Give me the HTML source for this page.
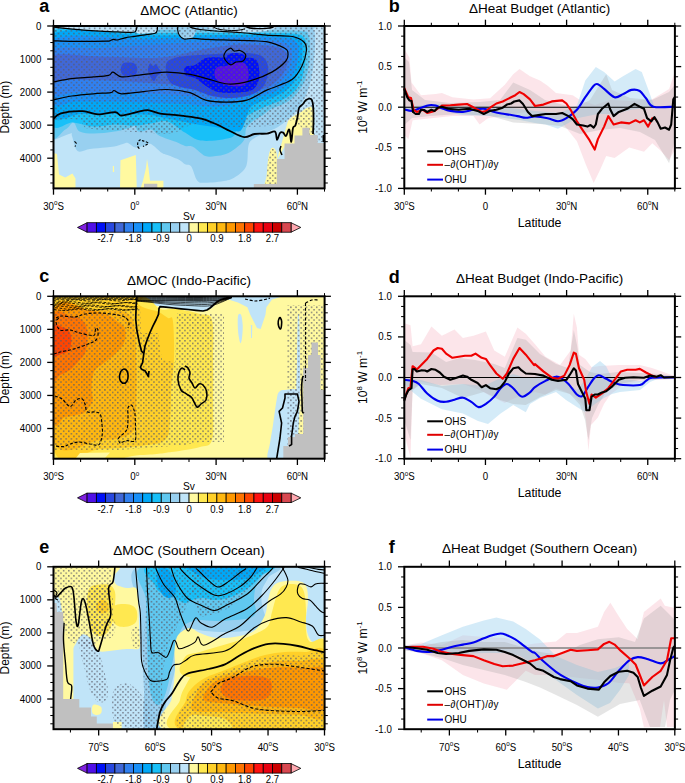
<!DOCTYPE html><html><head><meta charset="utf-8"><style>html,body{margin:0;padding:0;background:#fff;width:685px;height:783px;overflow:hidden;font-family:"Liberation Sans", sans-serif}</style></head><body><svg width="685" height="783" viewBox="0 0 685 783" style="position:absolute;left:0;top:0" font-family='"Liberation Sans", sans-serif'>
<rect width="685" height="783" fill="#fff"/>
<defs>
<pattern id="stip" width="5.165" height="5.165" patternUnits="userSpaceOnUse" x="0" y="0"><circle cx="4.235" cy="5.115" r="0.75" fill="#5a5a68"/><circle cx="4.235" cy="-0.05" r="0.75" fill="#5a5a68"/><circle cx="1.652" cy="2.533" r="0.75" fill="#5a5a68"/></pattern>
<clipPath id="pa"><rect x="53.5" y="26" width="271.1" height="162.4"/></clipPath>
<clipPath id="pc"><rect x="53.5" y="296.3" width="271.1" height="162.4"/></clipPath>
<clipPath id="pe"><rect x="53.5" y="566.8" width="271.1" height="162.4"/></clipPath>
<clipPath id="pb"><rect x="404.3" y="26" width="270.6" height="162.4"/></clipPath>
<clipPath id="pd"><rect x="404.3" y="296.3" width="270.6" height="162.4"/></clipPath>
<clipPath id="pf"><rect x="404.3" y="566.8" width="270.6" height="162.4"/></clipPath>
</defs>
<g clip-path="url(#pa)">
<rect x="53" y="25" width="273" height="165" fill="#c0e4f8"/>
<path d="M50,27.5 C66.7,8.5 108.3,27.2 150,27 C191.7,26.8 272.7,26 300,26.5 C327.3,27 311.1,26.9 313.6,30 C316.1,33.1 314.9,40 315,45 C315.1,50 314.5,55 314,60 C313.5,65 313,70 312,75 C311,80 309.7,85.3 308,90 C306.3,94.7 304.2,99.3 302,103 C299.8,106.7 297.5,109.2 295,112 C292.5,114.8 289.8,117.5 287,120 C284.2,122.5 281.5,124.9 278,127 C274.5,129.1 270.2,130.5 266,132.5 C261.8,134.5 255.9,136.8 253,139 C250.1,141.2 249.5,141.5 248.4,146 C247.3,150.5 248.4,160.9 246.3,166 C244.2,171.1 239.4,174.2 236,176.6 C232.6,179 231.1,179.7 226,180.7 C220.9,181.7 210.2,182.7 205.4,182.7 C200.6,182.7 199.7,183.4 197.3,180.7 C194.9,178 193.2,169 191.1,166.3 C189,163.6 186.9,165.3 185,164.3 C183.1,163.3 182.7,161.7 179.8,160.2 C176.9,158.7 170.5,156.3 167.5,155.1 C164.5,153.9 164.3,154.7 161.6,152.8 C158.8,151 153.8,145.2 151,144 C148.2,142.8 147.6,144.9 145,145.5 C142.4,146.1 138.1,147.9 135.3,147.5 C132.5,147.1 130.1,143.6 128,143 C126,142.4 125.3,143.4 123,144 C120.7,144.6 117.3,145.9 114.4,146.5 C111.5,147.1 109.7,147.1 105.6,147.5 C101.5,147.9 94.7,148.4 90,149 C85.3,149.6 80.5,153.2 77.5,151 C74.5,148.8 73.2,138.9 72,136 C70.8,133.1 73.7,132.8 70.5,133.5 C67.3,134.2 56.4,139.2 53,140.5 C49.6,141.8 50.5,159.8 50,141 C49.5,122.2 33.3,46.5 50,27.5Z" fill="#98d0f0"/>
<path d="M50,30.5 C66.7,13.5 116.7,30 150,30 C183.3,30 225,30.3 250,30.5 C275,30.7 290.2,30.2 300,31 C309.8,31.8 306.8,31.8 308.5,35 C310.2,38.2 309.9,45 310,50 C310.1,55 309.8,60 309,65 C308.2,70 306.8,75.5 305,80 C303.2,84.5 300.5,88.7 298,92 C295.5,95.3 292.8,97.8 290,100 C287.2,102.2 284.2,103.5 281,105 C277.8,106.5 273.9,107.4 270.9,109.1 C267.8,110.8 265.8,113.2 262.7,115.2 C259.6,117.2 255.2,119.3 252.5,121.4 C249.8,123.5 247.7,124.9 246.3,128 C244.9,131.1 246,136.5 244.3,139.8 C242.6,143.1 239.2,145.5 236.1,147.9 C233,150.3 229.3,152.7 225.9,154.1 C222.5,155.5 219.1,155.8 215.7,156.1 C212.3,156.4 209.2,157.6 205.4,156.1 C201.7,154.6 196.6,148.6 193.2,146.9 C189.8,145.2 187.9,146.8 185,145.9 C182.1,145.1 180,143.5 175.7,141.8 C171.4,140.1 163.4,137.8 159.3,135.7 C155.2,133.6 154.6,130.2 151.2,129.5 C147.8,128.8 141.6,132.3 138.9,131.6 C136.2,130.9 136.2,126.1 134.8,125.4 C133.4,124.7 134.1,126.5 130.7,127.5 C127.3,128.5 120.5,130.6 114.4,131.6 C108.3,132.6 99.8,133.6 94,133.6 C88.2,133.6 83,133.5 79.6,131.6 C76.2,129.7 75.8,122.8 73.4,122.4 C71,122.1 69.2,127.9 65.3,129.5 C61.4,131.1 52.5,148.5 50,132 C47.5,115.5 33.3,47.5 50,30.5Z" fill="#60c8f0"/>
<path d="M50,33.5 C66.7,18.8 116.7,33.1 150,33 C183.3,32.9 226.3,32.9 250,33 C273.7,33.1 282.9,32.7 292,33.5 C301.1,34.3 302.1,35.2 304.4,38 C306.7,40.8 305.9,45.5 306,50 C306.1,54.5 305.7,60.3 305,65 C304.3,69.7 303.3,74.2 302,78 C300.7,81.8 299,85.2 297,88 C295,90.8 292.5,93 290,95 C287.5,97 285,98.5 282,100 C279,101.5 275.3,102.7 272,104 C268.7,105.3 265.3,106.5 262,108 C258.7,109.5 255,111.3 252,113 C249,114.7 246.3,116 244,118 C241.7,120 239.7,122 238,125 C236.3,128 236,133.4 234,135.7 C232,138 229.6,137.8 225.9,138.7 C222.2,139.5 216.4,140.6 211.6,140.8 C206.8,141 201.7,141.2 197.3,139.8 C192.9,138.4 190,135.7 185,132.6 C180,129.5 173.1,122.9 167.5,121.4 C161.9,119.9 156.6,122.7 151.2,123.4 C145.8,124.1 140.9,125.2 134.8,125.4 C128.7,125.6 121.2,124.2 114.4,124.4 C107.6,124.6 100.8,126.8 94,126.5 C87.2,126.2 80.7,123.2 73.4,122.4 C66.1,121.6 53.9,136.2 50,121.4 C46.1,106.6 33.3,48.2 50,33.5Z" fill="#18c0f8"/>
<path d="M50,36 C66.7,22.9 116.7,35.7 150,35.5 C183.3,35.3 226.7,35 250,35 C273.3,35 281.5,34.7 290,35.5 C298.5,36.3 298.9,37.2 301,40 C303.1,42.8 302.6,47.7 302.5,52 C302.4,56.3 301.6,61.7 300.5,66 C299.4,70.3 297.8,74.5 296,78 C294.2,81.5 292.3,84.5 290,87 C287.7,89.5 285,91.2 282,93 C279,94.8 275.7,96.5 272,98 C268.3,99.5 263.7,100.3 260,102 C256.3,103.7 252.5,104.7 250,108 C247.5,111.3 246.7,118.2 245,122 C243.3,125.8 242.5,129.7 240,131 C237.5,132.3 234.2,130.7 230,130 C225.8,129.3 220,127.8 215,127 C210,126.2 205,125.8 200,125 C195,124.2 190,123 185,122 C180,121 174.2,119.8 170,119 C165.8,118.2 163.3,117.7 160,117 C156.7,116.3 156.7,115.5 150,115 C143.3,114.5 128.3,114.2 120,114 C111.7,113.8 106.7,114 100,114 C93.3,114 88.3,114 80,114 C71.7,114 55,127 50,114 C45,101 33.3,49.1 50,36Z" fill="#00a8f8"/>
<path d="M50,40.7 C66.7,30.3 116.7,39.6 150,39 C183.3,38.4 227.5,37.2 250,37 C272.5,36.8 277.2,37 285,38 C292.8,39 294.8,40.3 297,43 C299.2,45.7 298.7,50 298.5,54 C298.3,58 297.2,63 296,67 C294.8,71 293,74.8 291,78 C289,81.2 286.8,83.7 284,86 C281.2,88.3 277.7,90.3 274,92 C270.3,93.7 266.3,94.7 262,96 C257.7,97.3 252.3,98.8 248,100 C243.7,101.2 240.3,102 236,103 C231.7,104 227.2,105.5 222,106 C216.8,106.5 211.2,106.3 205,106 C198.8,105.7 192.5,104.5 185,104 C177.5,103.5 169.2,103.3 160,103 C150.8,102.7 140,102.2 130,102 C120,101.8 109.2,101.6 100,101.5 C90.8,101.4 83.3,101.5 75,101.5 C66.7,101.5 54.2,111.4 50,101.3 C45.8,91.2 33.3,51.1 50,40.7Z" fill="#1890f8"/>
<path d="M50,51.5 C58.3,44.1 83.3,49.1 100,48 C116.7,46.9 133.3,46 150,45 C166.7,44 183.3,42.8 200,42 C216.7,41.2 236.7,40.5 250,40.5 C263.3,40.5 273.3,40.9 280,42 C286.7,43.1 288,44.7 290,47 C292,49.3 292,52.7 292,56 C292,59.3 291.2,63.5 290,67 C288.8,70.5 287.2,74 285,77 C282.8,80 280.3,82.7 277,85 C273.7,87.3 269.5,89.3 265,91 C260.5,92.7 255,93.8 250,95 C245,96.2 240.8,97.3 235,98 C229.2,98.7 222.5,99.3 215,99 C207.5,98.7 199.2,96.8 190,96 C180.8,95.2 170,94.5 160,94 C150,93.5 140,93.2 130,93 C120,92.8 109.2,92.6 100,92.5 C90.8,92.4 83.3,92.4 75,92.4 C66.7,92.4 54.2,99.2 50,92.4 C45.8,85.6 41.7,58.9 50,51.5Z" fill="#3080f0"/>
<path d="M50,56 C58.3,52.1 83.3,56.2 100,56.5 C116.7,56.8 137.5,58.2 150,58 C162.5,57.8 166.7,56.8 175,55.5 C183.3,54.2 191.7,51.6 200,50 C208.3,48.4 217.5,46.9 225,46 C232.5,45.1 237.2,44.6 245,44.6 C252.8,44.6 265.3,44.9 272,46 C278.7,47.1 282.3,48.7 285,51 C287.7,53.3 288,56.8 288,60 C288,63.2 286.5,66.8 285,70 C283.5,73.2 281.8,76.2 279,79 C276.2,81.8 272.5,84.8 268,87 C263.5,89.2 257.5,90.8 252,92 C246.5,93.2 241.2,93.8 235,94 C228.8,94.2 221.7,93.8 215,93 C208.3,92.2 201.7,90.3 195,89 C188.3,87.7 182.5,86 175,85 C167.5,84 159.2,83.7 150,83 C140.8,82.3 130,81.5 120,81 C110,80.5 98.3,80.2 90,80 C81.7,79.8 76.7,79.7 70,79.6 C63.3,79.5 53.3,83.5 50,79.6 C46.7,75.7 41.7,59.9 50,56Z" fill="#4068d8"/>
<path d="M167,62 C168.5,59.7 172,59 175,58 C178,57 180.8,56.5 185,56 C189.2,55.5 195,55.3 200,55 C205,54.7 209.2,54.3 215,54 C220.8,53.7 228.8,53.1 235,53 C241.2,52.9 247.3,52.8 252,53.5 C256.7,54.2 260.3,54.9 263,57 C265.7,59.1 267.3,62.5 268,66 C268.7,69.5 268,74.3 267,78 C266,81.7 264.8,85.2 262,88 C259.2,90.8 255,93.3 250,95 C245,96.7 238.3,97.8 232,98 C225.7,98.2 218.2,97.3 212,96 C205.8,94.7 200.3,91.5 195,90 C189.7,88.5 184.2,88.3 180,87 C175.8,85.7 172.3,84.5 170,82 C167.7,79.5 166.5,75.3 166,72 C165.5,68.7 165.5,64.3 167,62Z" fill="#2848e0"/>
<path d="M120.7,69.5 C120.7,67.6 121.6,64.7 123,63.5 C124.4,62.3 127,62.4 129,62.5 C131,62.6 133.6,62.8 135,64 C136.4,65.2 137.3,67.7 137.3,69.5 C137.3,71.3 136.4,73.8 135,75 C133.6,76.2 131,76.5 129,76.5 C127,76.5 124.4,76.2 123,75 C121.6,73.8 120.7,71.4 120.7,69.5Z" fill="#2848e0"/>
<path d="M148,70 C148,67.9 149.2,64.1 150,63.4 C150.8,62.7 152,65.9 153,66 C154,66.1 155,63.5 156,64 C157,64.5 158,67.7 159,69 C160,70.3 162.1,70.8 161.8,72 C161.5,73.2 158.3,74.5 157,76 C155.7,77.5 155.2,81 154,81 C152.8,81 151,77.8 150,76 C149,74.2 148,72.1 148,70Z" fill="#2848e0"/>
<path d="M185.3,67 C186.9,65.3 191.6,66.5 195,65 C198.4,63.5 201.5,59.2 206,58 C210.5,56.8 216.3,57.6 222,57.5 C227.7,57.4 234.5,57.2 240,57.5 C245.5,57.8 251.8,57.2 255,59 C258.2,60.8 258.4,64.5 259,68 C259.6,71.5 260,76.3 258.8,80 C257.6,83.7 256,87.9 252,90 C248,92.1 240.7,92.5 235,92.8 C229.3,93.1 222.8,93.1 218,92 C213.2,90.9 209.8,88.3 206,86 C202.2,83.7 198.4,79.8 195,78 C191.6,76.2 186.9,76.8 185.3,75 C183.7,73.2 183.7,68.7 185.3,67Z" fill="#0010f8"/>
<path d="M227,56 C227.7,54.5 230.5,53.3 233,53 C235.5,52.7 239.8,53.2 242,54 C244.2,54.8 245.7,56.5 246,58 C246.3,59.5 245.7,62 244,63 C242.3,64 238.5,64.2 236,64 C233.5,63.8 230.5,63.3 229,62 C227.5,60.7 226.3,57.5 227,56Z" fill="#0010f8"/>
<path d="M215,70 C215.7,68.2 217.2,67.2 219,66.5 C220.8,65.8 223.5,66.6 226,66 C228.5,65.4 231,63.5 234,63 C237,62.5 241.6,61.8 244,63 C246.4,64.2 247.6,67.2 248.3,70 C249,72.8 249.1,77.4 248,80 C246.9,82.6 245,84.8 242,85.8 C239,86.8 233.7,86.4 230,85.8 C226.3,85.2 222.5,83.8 220,82.3 C217.5,80.8 215.8,79 215,77 C214.2,75 214.3,71.8 215,70Z" fill="#5010e8"/>
<path d="M50,26 137,26 136.5,29 134.7,32 128,32.3 114.3,31.8 100,31.2 83.7,30.1 70,28.8 53.5,27.6 50,27.6Z" fill="#c0e4f8"/>
<path d="M136,26 C139.5,24.8 154.4,25.5 158,26 C161.6,26.5 158,27.9 157.5,29 C157,30.1 157.1,31.8 155,32.5 C152.9,33.2 148,33.4 145,33.5 C142,33.6 138.5,34.2 137,33 C135.5,31.8 132.5,27.2 136,26Z" fill="#c0e4f8"/>
<path d="M176.5,26 C179.4,25.3 192.2,24.1 195,26 C197.8,27.9 194.8,35.4 193,37.5 C191.2,39.6 186.2,38.9 184,38.5 C181.8,38.1 180.6,36.4 179.5,35 C178.4,33.6 178.2,31.5 177.7,30 C177.2,28.5 173.6,26.7 176.5,26Z" fill="#98d0f0"/>
<path d="M211,26 C220,25.2 262.2,25.3 272,26 C281.8,26.7 272.8,29 270,30 C267.2,31 260.8,31.7 255,32 C249.2,32.3 241.2,32.2 235,32 C228.8,31.8 222,31.5 218,30.5 C214,29.5 202,26.8 211,26Z" fill="#c0e4f8"/>
<path d="M53.5,153 57,154 59,174.5 65.3,177.6 72.4,173.5 75.5,178.6 75.5,190 53.5,190Z" fill="#fff9a0"/>
<path d="M120.5,160.2 135.8,155.1 136.8,190 120,190Z" fill="#fff9a0"/>
<path d="M112.8,166 114,166 114.2,172 112.8,172Z" fill="#fff9a0"/>
<path d="M140,190 143,180.7 146,168 147,159 148.5,168 150,180.7 163.4,180.7 163.4,190Z" fill="#fff9a0"/>
<path d="M265.3,185 C263.6,183.5 266.1,180.8 266.6,176 C267.1,171.2 267.6,161.1 268.5,156.4 C269.4,151.8 270.5,149.2 271.7,148.1 C272.9,147 274.6,148.3 275.5,150 C276.4,151.7 276.8,152.2 277,158 C277.2,163.8 278.9,180.5 277,185 C275.1,189.5 267,186.5 265.3,185Z" fill="#fff9a0"/>
<path d="M277,160 279,152 282,142 285,131 288,121 292,117 297,114 301,112 305,109 308,107.5 311,106.5 314,112 314,143 285,146Z" fill="#fff9a0"/>
<path d="M53.5,26 324.5,26 324.5,142 314,142 302,128 294,120 285,122 270,126 250,127 230,127 200,123 185,127 175,133 165,134 150,133 120,131 100,130 85,128 80,120 70,119 53.5,121Z" fill="url(#stip)"/>
<path d="M265.3,185 266.6,176 268.5,156.4 271.7,148.1 275.5,150 277,158 277,185Z" fill="url(#stip)"/>
<path d="M253.8,190 253.8,183.9 276.8,183.9 276.8,159 284.5,159 284.5,143.6 294.5,143.6 294.5,135.5 302.4,135.5 302.4,127.7 309.4,127.7 309.4,135 317.7,135 317.7,143 326,143 326,190Z" fill="#c0c0c0"/>
<path d="M144,190 144,183.7 157.3,183.7 157.3,190Z" fill="#c0c0c0"/>
<path d="M53.5,81.9 C56.5,81.4 65,79.4 71.7,78.6 C78.4,77.8 87.2,77.5 93.4,76.9 C99.6,76.4 105.3,76.1 108.6,75.3 C111.9,74.5 110.8,71.8 113,72.1 C115.2,72.4 117.6,76.4 121.6,76.9 C125.6,77.4 132.1,75.8 136.8,75.3 C141.5,74.8 144.7,74.3 149.8,73.8 C154.9,73.3 160.5,72 167.2,72.1 C173.9,72.2 183.4,73.2 190,74.3 C196.6,75.4 200.3,77 206.7,78.6 C213.1,80.2 221.2,83.6 228.4,84 C235.6,84.4 242.9,82.8 250.1,80.8 C257.3,78.8 265.8,75.4 271.8,72.1 C277.8,68.8 283.2,64.2 285.9,61 C288.6,57.8 288.1,54.9 287.9,52.8 C287.7,50.7 288.3,50.1 284.7,48.3 C281.1,46.4 273.8,43 266.3,41.7 C258.9,40.4 250.1,40.8 240,40.4 C229.9,40 213.4,39.8 205.6,39.4 C197.8,39 196.6,38.4 193,38.3 C189.4,38.2 186.2,39.5 184,39 C181.8,38.5 180.6,37 179.5,35.5 C178.4,34 177.9,31.5 177.7,30 C177.4,28.5 177.9,26.9 178,26.3" fill="none" stroke="#000" stroke-width="1.2"/>
<path d="M53.5,99.9 C56.5,99.2 65,97 71.7,96 C78.4,95 86.9,94.3 93.4,93.8 C99.9,93.2 107.4,93.2 110.8,92.7 C114.2,92.2 112.2,90.3 114,90.5 C115.8,90.7 116.7,93.6 121.6,93.8 C126.5,94 135.7,92.3 143.3,91.6 C150.9,90.9 159.4,89.3 167.2,89.5 C175,89.7 183.6,90.9 190,92.7 C196.4,94.5 199.6,98.6 205.6,100.2 C211.6,101.8 219.3,102.2 226.2,102.2 C233.1,102.2 240,102.2 246.8,100.2 C253.7,98.2 259.8,93.3 267.3,89.9 C274.8,86.5 286.2,83.7 292,79.6 C297.8,75.5 299.9,70 302.3,65.2 C304.7,60.4 306,54.6 306.4,50.8 C306.8,47 306.7,44.9 304.4,42.5 C302.1,40.1 298.9,37.7 292.5,36.5 C286.1,35.3 275.1,35.8 266.3,35.1 C257.6,34.4 248.6,33.2 240,32.5 C231.4,31.8 221.7,31.5 215,31 C208.3,30.5 203.8,30 200,29.5 C196.2,29 193.8,28.3 192,27.8 C190.2,27.3 189.5,26.6 189,26.3" fill="none" stroke="#000" stroke-width="1.2"/>
<path d="M53.5,27.2 C56.2,27.5 65,28.3 70,28.8 C75,29.3 78.7,29.7 83.7,30.1 C88.7,30.5 94.9,30.9 100,31.2 C105.1,31.5 109.6,31.6 114.3,31.8 C119,32 124.6,32.3 128,32.3 C131.4,32.3 133.3,32.5 134.7,32 C136.1,31.4 136.1,29.9 136.5,29 C136.9,28.1 136.9,26.8 137,26.3" fill="none" stroke="#000" stroke-width="1.3"/>
<path d="M53.5,40.8 C56.8,40.9 66.5,41.3 73.4,41.4 C80.3,41.5 89.4,41.3 95,41.3 C100.6,41.3 104.5,41.3 107,41.2 C109.5,41.1 109.2,41.1 110.2,40.8 C111.2,40.5 112.2,39.4 113.3,39.3 C114.4,39.2 115,40.2 117,40 C119,39.8 122,38.4 125,37.8 C128,37.2 131.4,36.8 134.7,36.3 C138,35.8 141.6,35.3 145,34.8 C148.4,34.3 153.2,34 155.2,33.2 C157.2,32.4 156.8,31.2 157.2,30.1 C157.6,29 157.4,26.9 157.5,26.3" fill="none" stroke="#000" stroke-width="1.2"/>
<path d="M226,51 C226.8,50.5 229.5,48.1 230.8,48.1 C232.1,48.1 232.5,50.6 234,51 C235.5,51.4 238.1,49.8 240,50.5 C241.9,51.2 245.2,53.2 245.7,55 C246.2,56.8 244.6,59.8 243,61 C241.4,62.2 238,61.4 236,62 C234,62.6 232.5,65 230.8,64.8 C229.1,64.6 227.2,62.5 226,61 C224.8,59.5 223.8,57.7 223.8,56 C223.8,54.3 225.6,51.8 226,51" fill="none" stroke="#000" stroke-width="1.2"/>
<path d="M245,26.3 C245.8,26.6 247.8,27.6 250,28 C252.2,28.4 255.3,28.6 258,28.6 C260.7,28.7 263.7,28.5 266,28.3 C268.3,28.1 270.7,27.8 272,27.5 C273.3,27.2 273.7,26.5 274,26.3" fill="none" stroke="#000" stroke-width="1.3"/>
<path d="M211.8,26.3 C213.2,26.8 216.1,28.8 220,29.5 C223.9,30.2 230.8,30.6 235,30.5 C239.2,30.4 243.3,29.2 245,29" fill="none" stroke="#000" stroke-width="1.0"/>
<path d="M53.5,118.8 C54.7,117.9 56,114.6 60.9,113.3 C65.8,112 76.4,111 82.6,111.2 C88.8,111.4 92.4,114.2 97.8,114.4 C103.2,114.6 111.1,112 115.1,112.2 C119.1,112.4 118,115.5 121.6,115.5 C125.2,115.5 132.5,113.1 136.8,112.2 C141.2,111.3 143.8,109.9 147.7,110.1 C151.6,110.3 154.9,112.7 160.4,113.6 C165.9,114.5 174.1,114.8 180.9,115.7 C187.7,116.6 195.2,117.2 201.3,118.7 C207.4,120.2 212.9,122.9 217.7,124.9 C222.5,127 225.5,129 229.9,131 C234.3,133 240.1,136.6 244.2,137.1 C248.3,137.6 250.7,134.6 254.5,134 C258.3,133.4 263.4,134 266.8,133.6 C270.2,133.2 273.3,130.6 275,131.6 C276.7,132.6 276.2,139.6 277,139.8 C277.8,140 279,134.2 280,133 C281,131.8 282.2,132.1 283.2,132.6 C284.2,133.1 285,136.5 286,136 C287,135.5 288.4,128.5 289.3,129.5 C290.2,130.5 290.7,142.1 291.3,141.8 C291.9,141.6 292.3,130.7 293,128 C293.7,125.3 294.6,127.2 295.4,125.4 C296.1,123.6 296.9,120.2 297.5,117.3 C298.1,114.4 298.1,110.2 299,108 C299.9,105.8 301.8,105.3 303,104 C304.2,102.7 304.7,100.8 306,100 C307.3,99.2 309.8,98.2 311,99 C312.2,99.8 312.6,101.5 313,105 C313.4,108.5 313.5,115.2 313.5,120 C313.5,124.8 313.1,131.7 313,134" fill="none" stroke="#000" stroke-width="1.8"/>
<path d="M281,146 C280.8,146.7 279.8,148.5 280,150 C280.2,151.5 281.7,154.2 282,155" fill="none" stroke="#000" stroke-width="1.5"/>
<path d="M323.5,135 L323.5,142" fill="none" stroke="#000" stroke-width="1.8"/>
<path d="M74.5,141.4 C74.8,141.8 76.2,142.6 76.3,143.5 C76.4,144.4 75.2,146.1 75,146.6" fill="none" stroke="#000" stroke-width="1.15" stroke-dasharray="3,1.8"/>
<path d="M140.5,139.5 C140.1,139.9 138.4,140.8 138,142 C137.6,143.2 137.5,145.3 137.8,146.5 C138.1,147.7 139.6,148.8 140,149.3" fill="none" stroke="#000" stroke-width="1.15" stroke-dasharray="2.5,1.5"/>
<path d="M142,140.5 C143.1,140.9 148.1,142.2 148.3,143.2 C148.5,144.2 143.9,145.9 143,146.5" fill="none" stroke="#000" stroke-width="1.15" stroke-dasharray="2.5,1.5"/>
</g>
<g clip-path="url(#pc)">
<rect x="53" y="295" width="273" height="165" fill="#fff9a0"/>
<path d="M137,296 279.7,296 279.7,297.3 272,299.6 266.4,307.2 265.5,314.8 260.7,329 257,328 250.3,314.8 247.4,307.2 238,302.4 230,300 225,299 217.6,301.5 212,308 203,311 188.4,309.5 173.8,308 160,306.5 150,304 137,303Z" fill="#c0e4f8"/>
<path d="M238,316 C238.5,313.5 240.2,313.3 241,314.8 C241.8,316.3 242.5,321.1 242.7,325 C242.9,328.9 242.4,335 242,338 C241.6,341 241,343.2 240.5,343.2 C240,343.2 239.4,340.2 239,338 C238.6,335.8 238.2,333.7 238,330 C237.8,326.3 237.5,318.5 238,316Z" fill="#c0e4f8"/>
<path d="M250.9,325 252.2,325 252,338 251,338Z" fill="#c0e4f8"/>
<path d="M297.7,318 C298,310.7 298.7,314 299,316 C299.3,318 299.4,317 299.6,330 C299.8,343 300.5,383.3 300,394 C299.5,404.7 297,399.7 296.5,394 C296,388.3 296.8,372.7 297,360 C297.2,347.3 297.4,325.3 297.7,318Z" fill="#c0e4f8"/>
<path d="M276.6,400 C277.6,394.5 277.6,393.7 279,392 C280.4,390.3 281.8,390 285,390 C288.2,390 295.9,387 298.2,392 C300.5,397 299.4,411.2 299,420 C298.6,428.8 298.7,438.5 296,445 C293.3,451.5 287.7,456.7 283,459 C278.3,461.3 270.2,461.7 268,459 C265.8,456.3 269.2,448.7 270,443 C270.8,437.3 271.9,432.2 273,425 C274.1,417.8 275.6,405.5 276.6,400Z" fill="#c0e4f8"/>
<path d="M53,295 C66.9,268.3 119.2,292.7 137,295 C154.8,297.3 153.5,306.7 160,309 C166.5,311.3 169.3,308.2 176,309 C182.7,309.8 194,312.2 200,314 C206,315.8 209.8,312.3 212,320 C214.2,327.7 212.8,346.7 213,360 C213.2,373.3 213.2,386.7 213,400 C212.8,413.3 214.2,432.2 212,440 C209.8,447.8 204.5,445.3 200,447 C195.5,448.7 189.8,449.2 185,450 C180.2,450.8 179,451.2 171.5,452 C164,452.8 159.7,454.5 140,455 C120.3,455.5 68,481.7 53.5,455 C39,428.3 39.1,321.7 53,295Z" fill="#ffe850"/>
<path d="M53,295 C66.9,269.3 122.9,293.7 137,295 C151.1,296.3 136.2,300.8 137.5,303 C138.8,305.2 141.5,306.5 145,308 C148.5,309.5 154.9,310.3 158.7,312 C162.5,313.7 165.7,316.8 168,318 C170.3,319.2 171.5,315.3 172.5,319 C173.5,322.7 173.8,332.3 174,340 C174.2,347.7 174.1,357.3 173.7,365 C173.3,372.7 172,376.8 171.4,386 C170.8,395.2 171.1,411 170,420 C168.9,429 170,435.7 165,440 C160,444.3 150.8,444.5 140,446 C129.2,447.5 114.4,448.5 100,449 C85.6,449.5 61.3,474.7 53.5,449 C45.7,423.3 39.1,320.7 53,295Z" fill="#ffd028"/>
<path d="M53.5,310 C59.6,288.2 78.7,309.8 90,310 C101.3,310.2 114.3,309.7 121.3,311 C128.3,312.3 129.7,314.8 132,318 C134.3,321.2 134.3,324.7 135,330 C135.7,335.3 135.8,341.7 136,350 C136.2,358.3 136.5,370 136.5,380 C136.5,390 136.4,401.7 136,410 C135.6,418.3 136.7,425.3 134,430 C131.3,434.7 125.7,436.3 120,438 C114.3,439.7 111.1,439.5 100,440 C88.9,440.5 61.2,462.7 53.5,441 C45.8,419.3 47.4,331.8 53.5,310Z" fill="#ffb810"/>
<path d="M53.5,310.5 C59.6,292.5 80.9,309.8 90,310.5 C99.1,311.2 103.3,313.1 108,315 C112.7,316.9 115.2,319.7 118,322 C120.8,324.3 124,325.5 125,329 C126,332.5 125.8,338.8 124,343 C122.2,347.2 118,351.1 114.5,354.5 C111,357.9 106.4,360.8 103,363.7 C99.6,366.6 95.9,367.8 94,372 C92.1,376.2 91.7,384.2 91.5,389 C91.3,393.8 93.7,397.2 92.6,401 C91.5,404.8 87.2,409.8 85,412 C82.8,414.2 82.6,413.6 79.3,414.4 C76,415.2 69.3,416.3 65,417 C60.7,417.7 55.4,436.1 53.5,418.4 C51.6,400.6 47.4,328.5 53.5,310.5Z" fill="#ff9800"/>
<path d="M53.5,315.7 C56.2,305.5 65.2,315.3 70,316 C74.8,316.7 79.1,317.7 82,320 C84.9,322.3 86.4,325.8 87.2,330 C88,334.2 87.5,340.8 87,345 C86.5,349.2 85.5,352.2 84,355 C82.5,357.8 80.3,359.5 78,362 C75.7,364.5 73,367.8 70,370 C67,372.2 62.8,373.8 60,375 C57.2,376.2 54.6,386.9 53.5,377 C52.4,367.1 50.8,325.9 53.5,315.7Z" fill="#ff7400"/>
<path d="M53.5,326 C54.9,321.5 59.4,326.2 62,327 C64.6,327.8 67.4,328.8 69,331 C70.6,333.2 71.4,336.8 71.4,340 C71.4,343.2 70.6,347.7 69,350 C67.4,352.3 64.6,353.1 62,353.8 C59.4,354.5 54.9,358.6 53.5,354 C52.1,349.4 52.1,330.5 53.5,326Z" fill="#ff4400"/>
<path d="M76,458 80,453 110,452.5 105,458Z" fill="#fff9a0"/>
<path d="M53.5,310 137,310 140,305 141,333 158,333 162,360 175,362 177,313 200,314 224,314 224,442 200,442 185,445 120,450 53.5,450Z" fill="url(#stip)"/>
<path d="M287,305 324.5,305 324.5,458 287,458Z" fill="url(#stip)"/>
<path d="M283.3,460 283.3,446 288,446 288,437 295,437 295,434 303.2,434 303.2,368 308,368 308,355 311.5,355 311.5,342.5 318,342.5 318,355 320.5,355 320.5,390 326,390 326,460Z" fill="#c0c0c0"/>
<path d="M137,297.1 C142.5,297.1 159.5,297.2 170,297.3 C180.5,297.4 191.3,297.6 200,297.5 C208.7,297.4 216.7,296.9 222,296.8 C227.3,296.7 230.3,296.8 232,296.8" fill="none" stroke="#000" stroke-width="0.8"/>
<path d="M137,298.1 C142.5,298.1 159.5,298.2 170,298.2 C180.5,298.3 191.3,298.5 200,298.4 C208.7,298.4 216.7,298 222,297.8 C227.3,297.5 230.3,297 232,296.8" fill="none" stroke="#000" stroke-width="0.8"/>
<path d="M137,299 C142.5,299 159.5,299.1 170,299.2 C180.5,299.3 191.3,299.5 200,299.4 C208.7,299.3 216.7,299.1 222,298.7 C227.3,298.3 230.3,297.1 232,296.8" fill="none" stroke="#000" stroke-width="0.8"/>
<path d="M137,300 C142.5,300 159.5,300.1 170,300.2 C180.5,300.2 191.3,300.4 200,300.4 C208.7,300.3 216.7,300.2 222,299.7 C227.3,299.1 230.3,297.3 232,296.8" fill="none" stroke="#000" stroke-width="0.8"/>
<path d="M137,300.3 C139.2,300.3 144.3,300.4 150,300.5 C155.7,300.6 164.3,300.7 171,300.8 C177.7,300.9 184.3,301.1 190,301.2 C195.7,301.3 201,301.4 205,301.3 C209,301.2 211.2,301.1 214,300.8 C216.8,300.6 219,300.4 222,299.8 C225,299.2 230.3,297.9 232,297.5" fill="none" stroke="#000" stroke-width="0.7"/>
<path d="M137,300.6 C139.2,300.7 144.3,300.9 150,301.1 C155.7,301.4 164.3,301.8 171,302.1 C177.7,302.3 184.3,302.5 190,302.7 C195.7,302.8 201,303 205,302.9 C209,302.8 211.2,302.6 214,302.2 C216.8,301.8 219,301.3 222,300.5 C225,299.8 230.3,298 232,297.5" fill="none" stroke="#000" stroke-width="0.7"/>
<path d="M137,300.8 C139.2,301 144.3,301.3 150,301.7 C155.7,302.1 164.3,302.9 171,303.3 C177.7,303.7 184.3,303.9 190,304.1 C195.7,304.3 201,304.6 205,304.5 C209,304.4 211.2,304.1 214,303.6 C216.8,303.1 219,302.3 222,301.3 C225,300.2 230.3,298.1 232,297.5" fill="none" stroke="#000" stroke-width="0.7"/>
<path d="M137,301.1 C139.2,301.3 144.3,301.7 150,302.3 C155.7,302.9 164.3,304.1 171,304.6 C177.7,305.2 184.3,305.3 190,305.6 C195.7,305.8 201,306.2 205,306.1 C209,306 211.2,305.7 214,305 C216.8,304.3 219,303.2 222,302 C225,300.8 230.3,298.2 232,297.5" fill="none" stroke="#000" stroke-width="0.7"/>
<path d="M136.9,296.5 L136.2,305 L135.7,319 L136.9,330.5 L139.2,342 L141.5,351.2 L143.8,353.5 L142.6,362.7 L140.3,367.3 L142,369.5 L145,370.7 L147,374 L148.4,376.5 L149,371 M143.8,353.5 L145,346 L147.2,339.7 L150,332.5 L153,325.9 L156,320 L158.5,314.4 L159,308.5 L160,306.6 L166,307.2 L173.8,308 L181,308.8 L188.4,309.5 L196,310.3 L203,311 L207,310 L210,308 L214,304.5 L217.6,301.5 L221,299.8 L225,298.5 L230,297" fill="none" stroke="#000" stroke-width="1.7" stroke-linejoin="round"/>
<path d="M53.5,297.0 L137,297.2" fill="none" stroke="#111" stroke-width="0.9" stroke-dasharray="4,1.2" stroke-dashoffset="0.0"/>
<path d="M53.5,298.1 L137,298.3" fill="none" stroke="#111" stroke-width="0.9" stroke-dasharray="4,1.2" stroke-dashoffset="1.7"/>
<path d="M53.5,299.2 L137,299.4" fill="none" stroke="#111" stroke-width="0.9" stroke-dasharray="4,1.2" stroke-dashoffset="3.4"/>
<path d="M53.5,300.6 C54.5,300.7 57.5,301.2 59.5,301.2 C61.5,301.3 63.5,301.1 65.5,300.9 C67.5,300.7 69.5,300.2 71.5,300 C73.5,299.9 75.5,299.8 77.5,299.9 C79.5,300 81.5,300.4 83.5,300.6 C85.5,300.8 87.5,301.1 89.5,301.1 C91.5,301.1 93.5,300.8 95.5,300.6 C97.5,300.4 99.5,299.9 101.5,299.8 C103.5,299.6 105.5,299.7 107.5,299.8 C109.5,299.9 111.5,300.4 113.5,300.6 C115.5,300.8 117.5,301 119.5,301 C121.5,300.9 123.5,300.5 125.5,300.3 C127.5,300.1 129.5,299.7 131.5,299.6 C133.5,299.5 136.5,299.7 137.5,299.8" fill="none" stroke="#000" stroke-width="0.85" stroke-dasharray="2.8,1.5" stroke-dashoffset="0.00"/>
<path d="M53.5,302.7 C54.5,302.7 57.5,302.9 59.5,302.8 C61.5,302.7 63.5,302.2 65.5,302.1 C67.5,301.9 69.5,301.6 71.5,301.7 C73.5,301.7 75.5,302.1 77.5,302.3 C79.5,302.6 81.5,303 83.5,303.2 C85.5,303.3 87.5,303.2 89.5,303.1 C91.5,302.9 93.5,302.5 95.5,302.3 C97.5,302.1 99.5,302 101.5,302.1 C103.5,302.2 105.5,302.6 107.5,302.8 C109.5,303.1 111.5,303.5 113.5,303.6 C115.5,303.7 117.5,303.5 119.5,303.3 C121.5,303.1 123.5,302.7 125.5,302.6 C127.5,302.4 129.5,302.4 131.5,302.5 C133.5,302.7 136.5,303.2 137.5,303.4" fill="none" stroke="#000" stroke-width="0.85" stroke-dasharray="2.8,1.5" stroke-dashoffset="1.37"/>
<path d="M53.5,304.4 C54.5,304.3 57.5,303.9 59.5,303.7 C61.5,303.5 63.5,303.1 65.5,303 C67.5,302.9 69.5,303 71.5,303.2 C73.5,303.4 75.5,303.9 77.5,304 C79.5,304.2 81.5,304.3 83.5,304.2 C85.5,304.1 87.5,303.6 89.5,303.4 C91.5,303.2 93.5,302.8 95.5,302.8 C97.5,302.8 99.5,303 101.5,303.2 C103.5,303.4 105.5,303.9 107.5,304 C109.5,304.1 111.5,304.1 113.5,304 C115.5,303.8 117.5,303.3 119.5,303.1 C121.5,302.9 123.5,302.6 125.5,302.6 C127.5,302.7 129.5,303 131.5,303.2 C133.5,303.4 136.5,303.8 137.5,303.9" fill="none" stroke="#000" stroke-width="0.85" stroke-dasharray="2.8,1.5" stroke-dashoffset="2.74"/>
<path d="M53.5,305.5 C54.5,305.4 57.5,304.9 59.5,304.8 C61.5,304.7 63.5,304.7 65.5,304.8 C67.5,305 69.5,305.5 71.5,305.7 C73.5,305.9 75.5,306.2 77.5,306.2 C79.5,306.3 81.5,306 83.5,305.8 C85.5,305.6 87.5,305.2 89.5,305.1 C91.5,305 93.5,305.1 95.5,305.3 C97.5,305.5 99.5,306 101.5,306.2 C103.5,306.4 105.5,306.6 107.5,306.6 C109.5,306.6 111.5,306.2 113.5,306 C115.5,305.8 117.5,305.4 119.5,305.4 C121.5,305.4 123.5,305.6 125.5,305.8 C127.5,306 129.5,306.5 131.5,306.7 C133.5,306.9 136.5,306.9 137.5,306.9" fill="none" stroke="#000" stroke-width="0.85" stroke-dasharray="2.8,1.5" stroke-dashoffset="4.11"/>
<path d="M53.5,306.5 C54.5,306.4 57.5,306.1 59.5,306.1 C61.5,306.1 63.5,306.5 65.5,306.7 C67.5,306.9 69.5,307.3 71.5,307.4 C73.5,307.4 75.5,307.3 77.5,307.1 C79.5,306.9 81.5,306.4 83.5,306.2 C85.5,306 87.5,305.9 89.5,306 C91.5,306.1 93.5,306.5 95.5,306.7 C97.5,306.9 99.5,307.2 101.5,307.3 C103.5,307.3 105.5,307 107.5,306.8 C109.5,306.6 111.5,306.1 113.5,306 C115.5,305.8 117.5,305.8 119.5,305.9 C121.5,306 123.5,306.5 125.5,306.7 C127.5,306.9 129.5,307.1 131.5,307.1 C133.5,307.1 136.5,306.6 137.5,306.5" fill="none" stroke="#000" stroke-width="0.85" stroke-dasharray="2.8,1.5" stroke-dashoffset="1.28"/>
<path d="M53.5,307.7 C54.5,307.7 57.5,307.9 59.5,308.1 C61.5,308.3 63.5,308.8 65.5,309 C67.5,309.2 69.5,309.3 71.5,309.2 C73.5,309.1 75.5,308.7 77.5,308.5 C79.5,308.3 81.5,308 83.5,308 C85.5,308.1 87.5,308.4 89.5,308.6 C91.5,308.9 93.5,309.3 95.5,309.5 C97.5,309.6 99.5,309.6 101.5,309.5 C103.5,309.3 105.5,308.9 107.5,308.7 C109.5,308.5 111.5,308.3 113.5,308.4 C115.5,308.5 117.5,308.9 119.5,309.1 C121.5,309.4 123.5,309.8 125.5,309.9 C127.5,310 129.5,309.9 131.5,309.7 C133.5,309.6 136.5,309.1 137.5,308.9" fill="none" stroke="#000" stroke-width="0.85" stroke-dasharray="2.8,1.5" stroke-dashoffset="2.65"/>
<path d="M53.5,309.4 C54.5,309.5 57.5,310 59.5,310.2 C61.5,310.3 63.5,310.6 65.5,310.5 C67.5,310.5 69.5,310.1 71.5,309.9 C73.5,309.7 75.5,309.2 77.5,309.1 C79.5,309 81.5,309.2 83.5,309.3 C85.5,309.5 87.5,310 89.5,310.1 C91.5,310.3 93.5,310.4 95.5,310.3 C97.5,310.3 99.5,309.8 101.5,309.6 C103.5,309.4 105.5,309 107.5,308.9 C109.5,308.9 111.5,309.1 113.5,309.3 C115.5,309.5 117.5,310 119.5,310.1 C121.5,310.2 123.5,310.3 125.5,310.1 C127.5,310 129.5,309.5 131.5,309.3 C133.5,309.1 136.5,308.9 137.5,308.8" fill="none" stroke="#000" stroke-width="0.85" stroke-dasharray="2.8,1.5" stroke-dashoffset="4.02"/>
<path d="M58.7,318.2 C58.2,318.8 55.8,320 56,322 C56.2,324 57.7,328.7 60,330 C62.3,331.3 66.7,329.5 70,330 C73.3,330.5 76.1,332.1 80,333 C83.9,333.9 90.9,335.8 93.4,335.6 C95.9,335.4 94.6,333.3 95,332 C95.4,330.7 95.5,328.3 96,328 C96.5,327.7 97.7,328.7 98,330 C98.3,331.3 98,335 98,336" fill="none" stroke="#000" stroke-width="1.15" stroke-dasharray="3,1.8"/>
<path d="M56,318 C57,317.7 58.8,316.2 62,316 C65.2,315.8 71.2,317.3 75,317 C78.8,316.7 80.8,314.7 85,314 C89.2,313.3 94.5,312.8 100,313 C105.5,313.2 113.7,314.2 118,315 C122.3,315.8 124.2,316.7 126,318 C127.8,319.3 128.7,321.3 129,323 C129.3,324.7 128.2,327.2 128,328" fill="none" stroke="#000" stroke-width="1.15" stroke-dasharray="3,1.8"/>
<path d="M54,354 C55,353.7 57.3,352.7 60,352 C62.7,351.3 66.7,350.8 70,350 C73.3,349.2 77,348 80,347 C83,346 85.8,344.8 88,344 C90.2,343.2 91.7,342.7 93,342 C94.3,341.3 95.2,340.8 96,340 C96.8,339.2 97.7,337.5 98,337" fill="none" stroke="#000" stroke-width="1.15" stroke-dasharray="3,1.8"/>
<path d="M55,396 C56.2,396.5 59.5,397.2 62,399 C64.5,400.8 67.7,406.3 70,406.5 C72.3,406.7 74,401.3 76,400 C78,398.7 80.4,398 81.9,398.7 C83.4,399.4 84.1,401.8 85,404 C85.9,406.2 85.5,410.5 87.2,411.8 C88.9,413.1 92.8,411.6 95,412 C97.2,412.4 99.1,412.2 100.3,414.4 C101.5,416.6 101.7,421.7 102,425 C102.3,428.3 102.8,430.7 102.3,434 C101.8,437.3 101,442.9 99,444.6 C97,446.3 93.3,444.4 90,444 C86.7,443.6 82.6,442 79.3,442 C76,442 72.6,443.2 70,444 C67.4,444.8 66,446.3 63.5,446.6 C61,446.9 56.4,446.1 55,446" fill="none" stroke="#000" stroke-width="1.15" stroke-dasharray="3,1.8"/>
<path d="M120,443.3 C119.8,442.4 117.6,440.2 118.7,438 C119.8,435.8 125,433.3 126.6,430 C128.2,426.7 127.8,421.7 128,418 C128.2,414.3 127.4,410 128,407.9 C128.6,405.8 130.8,404.8 131.8,405.2 C132.8,405.6 133.5,408.5 134,410 C134.5,411.5 134.8,411.4 135,414.4 C135.2,417.4 135.5,423.6 135.5,428 C135.5,432.4 136.5,438.6 135,440.7 C133.5,442.8 129.1,440.3 126.6,440.7 C124.1,441.1 121.1,442.9 120,443.3" fill="none" stroke="#000" stroke-width="1.15" stroke-dasharray="3,1.8"/>
<path d="M305.5,303 L305.5,381" fill="none" stroke="#000" stroke-width="1.15" stroke-dasharray="3,1.8"/>
<path d="M305.5,303 C306.6,302.5 309.9,300.5 312,300 C314.1,299.5 317,300 318,300" fill="none" stroke="#000" stroke-width="1.15" stroke-dasharray="3,1.8"/>
<path d="M245,299 C246.7,299.3 251.7,300.9 255,301 C258.3,301.1 262.5,300 265,299.5 C267.5,299 269.2,298.2 270,298" fill="none" stroke="#000" stroke-width="1.15" stroke-dasharray="3,1.8"/>
<path d="M121,371 C121.5,370.7 123,369 124,369 C125,369 126.3,369.8 127,371 C127.7,372.2 128.1,374.3 128.1,376 C128.1,377.7 127.7,379.8 127,381 C126.3,382.2 125.1,383.3 124,383.3 C122.9,383.3 121.2,382.2 120.5,381 C119.8,379.8 119.4,377.7 119.5,376 C119.6,374.3 120.8,371.8 121,371" fill="none" stroke="#000" stroke-width="1.6"/>
<path d="M279.9,317 C280.1,317.5 281.1,318.8 281.4,320 C281.7,321.2 281.8,322.5 281.6,324 C281.5,325.5 281,328.7 280.5,329 C280,329.3 279,327.3 278.6,326 C278.2,324.7 278.1,322.5 278.3,321 C278.5,319.5 279.6,317.7 279.9,317" fill="none" stroke="#000" stroke-width="1.6"/>
<path d="M185,366 C185.5,366.3 187.2,366.8 188,368 C188.8,369.2 189.8,371.3 190,373 C190.2,374.7 188.7,376.3 189,378 C189.3,379.7 191,381.3 192,383 C193,384.7 193.8,387.8 195,388 C196.2,388.2 197.7,384.5 199,384 C200.3,383.5 201.7,383.7 203,385 C204.3,386.3 206.2,389.5 206.7,392 C207.2,394.5 206.9,398 206,400 C205.1,402 202.5,402.8 201,404 C199.5,405.2 198.5,408 197,407 C195.5,406 193.5,400 192,398 C190.5,396 189.2,395.8 188,395 C186.8,394.2 185.5,393.3 185,393" fill="none" stroke="#000" stroke-width="1.6"/>
<path d="M185,370 C184.5,369.7 183,367.7 182,368 C181,368.3 179.7,370 179,372 C178.3,374 177.7,377 178,380 C178.3,383 179.8,387.8 181,390 C182.2,392.2 184.3,392.5 185,393" fill="none" stroke="#000" stroke-width="1.6"/>
<path d="M276.6,459 L280,438 L281.6,423 L279.1,411.4 L282.5,408 L285,398 L285,394 L297.4,394 L299,401.4 L297.4,411.4 L295,416.4 L293.3,423 L291.6,436.3 L291.6,444.6 L289,446" fill="none" stroke="#000" stroke-width="1.6" stroke-linejoin="round"/>
<path d="M303.5,376 C303.3,376.4 302.7,376.2 302.4,378.2 C302.1,380.2 301.7,384.4 301.6,388 C301.5,391.6 301.9,396.1 302,400 C302.1,403.9 302.1,409.2 302.4,411.4 C302.7,413.6 303.7,412.7 304,413" fill="none" stroke="#000" stroke-width="1.6"/>
</g>
<g clip-path="url(#pe)">
<rect x="53" y="565" width="273" height="166" fill="#c0e4f8"/>
<path d="M141,565 C162.8,557.5 250.8,562.8 272,565 C293.2,567.2 269.7,573.8 268,578 C266.3,582.2 263,585.5 262,590 C261,594.5 261.3,600 262,605 C262.7,610 266,616.2 266,620 C266,623.8 265.5,626.2 262,628 C258.5,629.8 251.2,630.3 245,631 C238.8,631.7 231.7,632 225,632 C218.3,632 210.8,631.5 205,631 C199.2,630.5 193.7,628.2 190,629 C186.3,629.8 184.8,632.5 183,636 C181.2,639.5 180.3,644.3 179,650 C177.7,655.7 176.5,663.3 175,670 C173.5,676.7 171.5,684.2 170,690 C168.5,695.8 167,698.3 166,705 C165,711.7 167.5,725.8 164,730 C160.5,734.2 148.3,736.7 145,730 C141.7,723.3 144.5,703.3 144,690 C143.5,676.7 142.5,663.3 142,650 C141.5,636.7 141.2,624.2 141,610 C140.8,595.8 119.2,572.5 141,565Z" fill="#98d0f0"/>
<path d="M146,565 C166,559.2 246.7,563.2 266,565 C285.3,566.8 263.7,572.5 262,576 C260.3,579.5 257.3,582 256,586 C254.7,590 254,595.7 254,600 C254,604.3 256.7,609 256,612 C255.3,615 253.5,616.7 250,618 C246.5,619.3 240.8,619.5 235,620 C229.2,620.5 220.8,621 215,621 C209.2,621 204.2,619.8 200,620 C195.8,620.2 193,620.7 190,622 C187,623.3 184.3,624.2 182,628 C179.7,631.8 177.7,638.8 176,645 C174.3,651.2 173.3,658.3 172,665 C170.7,671.7 169.5,679.2 168,685 C166.5,690.8 164.8,696.7 163,700 C161.2,703.3 159,705.8 157,705 C155,704.2 152.5,700.8 151,695 C149.5,689.2 148.7,679.2 148,670 C147.3,660.8 147.3,651.7 147,640 C146.7,628.3 146.2,612.5 146,600 C145.8,587.5 126,570.8 146,565Z" fill="#60c8f0"/>
<path d="M152,565 C170.8,561.7 249.7,563.3 268,565 C286.3,566.7 264.7,571.7 262,575 C259.3,578.3 255.7,582 252,585 C248.3,588 244,590.8 240,593 C236,595.2 232.2,596.8 228,598 C223.8,599.2 219.3,600 215,600 C210.7,600 205.8,598 202,598 C198.2,598 194.8,599.2 192,600 C189.2,600.8 187.3,603 185,603 C182.7,603 180.5,601.2 178,600 C175.5,598.8 173,597.3 170,596 C167,594.7 162.5,593.8 160,592 C157.5,590.2 156.3,589.5 155,585 C153.7,580.5 133.2,568.3 152,565Z" fill="#18c0f8"/>
<path d="M190,566 C201.2,564.8 251,564.7 262,566 C273,567.3 258.7,571.8 256,574 C253.3,576.2 250,578 246,579 C242,580 236.7,579.8 232,580 C227.3,580.2 222.5,580.3 218,580 C213.5,579.7 208.8,579.2 205,578 C201.2,576.8 197.5,575 195,573 C192.5,571 178.8,567.2 190,566Z" fill="#00a8f8"/>
<path d="M158,570 C159.5,567.7 163.7,567.2 166,568 C168.3,568.8 170.3,571.3 172,575 C173.7,578.7 176.3,586.2 176,590 C175.7,593.8 172.3,597.3 170,598 C167.7,598.7 164.2,596.7 162,594 C159.8,591.3 157.7,586 157,582 C156.3,578 156.5,572.3 158,570Z" fill="#00a8f8"/>
<path d="M53,565 C63.5,560 105.8,563.2 116,565 C126.2,566.8 114.2,573 114,576 C113.8,579 114.2,581.3 115,583 C115.8,584.7 117,585.2 119,586 C121,586.8 124.2,587.7 127,588 C129.8,588.3 134.2,586 136,588 C137.8,590 137.5,593.8 138,600 C138.5,606.2 138.8,619.2 139,625 C139.2,630.8 139.4,630.8 139.5,634.6 C139.6,638.4 140.8,645.6 139.5,648 C138.2,650.4 134.1,648.8 131.8,649 C129.6,649.2 129.4,648.7 126,649 C122.6,649.3 116,650.4 111.4,650.7 C106.8,651 101.7,652.7 98.3,650.7 C94.9,648.8 93.7,641.7 91,639 C88.3,636.3 85.1,633.1 82.2,634.6 C79.3,636.1 75.4,645.1 73.4,647.7 C71.4,650.3 71.2,650.8 70,650 C68.8,649.2 67.2,648 66,643 C64.8,638 64,627.2 63,620 C62,612.8 61.2,603.8 60,600 C58.8,596.2 57.2,597.8 56,597 C54.8,596.2 53.5,600.3 53,595 C52.5,589.7 42.5,570 53,565Z" fill="#fff9a0"/>
<path d="M62,630 73.4,640 73.4,700 62,700Z" fill="#fff9a0"/>
<path d="M92.4,706 C93,704.6 94.5,704.5 96,704.7 C97.5,704.9 100.3,705.6 101.2,707 C102.1,708.4 101.9,711.7 101.2,713 C100.5,714.3 98.5,715 97,715 C95.5,715 93.2,714.5 92.4,713 C91.6,711.5 91.8,707.4 92.4,706Z" fill="#fff9a0"/>
<path d="M113,722 121.6,722 121.6,731 113,731Z" fill="#fff9a0"/>
<path d="M88,592 C88.8,588.8 90,587.3 92,586 C94,584.7 97,584.6 100,584.4 C103,584.2 107.5,583.7 110,585 C112.5,586.3 114.2,588.7 115,592 C115.8,595.3 115.3,600.3 115,605 C114.7,609.7 114.2,615.5 113,620 C111.8,624.5 110.2,629.3 108,632 C105.8,634.7 102.5,635.8 100,636 C97.5,636.2 94.8,635.3 93,633 C91.2,630.7 90,626.7 89,622 C88,617.3 87.2,610 87,605 C86.8,600 87.2,595.2 88,592Z" fill="#ffe850"/>
<path d="M111,610 C111.7,607.5 113.7,606 116,605 C118.3,604 122.2,603.8 125,604 C127.8,604.2 131,604.7 133,606 C135,607.3 136.5,609.3 137,612 C137.5,614.7 137.5,619.6 136,622 C134.5,624.4 131,625.7 128,626.4 C125,627.1 120.7,627.1 118,626 C115.3,624.9 113.2,622.7 112,620 C110.8,617.3 110.3,612.5 111,610Z" fill="#ffe850"/>
<path d="M96.4,606 C96.6,604.2 97.7,602 99,601 C100.3,600 102.5,599.5 104,600 C105.5,600.5 107.5,602.2 108.2,604 C108.9,605.8 108.9,609.5 108,611 C107.1,612.5 104.7,613.1 103,613.3 C101.3,613.5 99.1,613.2 98,612 C96.9,610.8 96.2,607.8 96.4,606Z" fill="#ffd028"/>
<path d="M169.4,731 C143.7,725.7 170.8,707.2 171.6,699 C172.4,690.8 173.4,687.2 174,682 C174.6,676.8 174.9,673 175,668 C175.1,663 174.3,656.7 174.5,652 C174.7,647.3 175.1,643.2 176,640 C176.9,636.8 177.7,635 180,633 C182.3,631 186.7,628 190,628 C193.3,628 195.5,631.3 200,633 C204.5,634.7 210.3,637.5 217,638 C223.7,638.5 233.7,637.3 240,636 C246.3,634.7 250.8,633.5 255,630 C259.2,626.5 262.8,620 265,615 C267.2,610 266.8,604.5 268,600 C269.2,595.5 270,591 272,588 C274,585 275.7,583.2 280,582 C284.3,580.8 293.7,580.3 298,581 C302.3,581.7 304.3,582.8 306,586 C307.7,589.2 308,594.3 308,600 C308,605.7 306,614.2 306,620 C306,625.8 306.5,631 308,635 C309.5,639 312,642.5 315,644 C318,645.5 324.2,629.5 326,644 C327.8,658.5 352.1,716.5 326,731 C299.9,745.5 195.1,736.3 169.4,731Z" fill="#fff9a0"/>
<path d="M185,676 C174.2,672.2 182.5,661 185,657 C187.5,653 194.2,653.8 200,652 C205.8,650.2 213.3,648 220,646 C226.7,644 234.2,642 240,640 C245.8,638 250.3,636.3 255,634 C259.7,631.7 265.2,629.7 268,626 C270.8,622.3 270.3,617.7 272,612 C273.7,606.3 275.8,596.5 278,592 C280.2,587.5 281.7,586.2 285,585 C288.3,583.8 294.8,583.8 298,585 C301.2,586.2 302.7,587.8 304,592 C305.3,596.2 305.7,603.7 306,610 C306.3,616.3 305.3,624.7 306,630 C306.7,635.3 306.7,639 310,642 C313.3,645 323.3,641.7 326,648 C328.7,654.3 338.7,674.7 326,680 C313.3,685.3 273.5,680.7 250,680 C226.5,679.3 195.8,679.8 185,676Z" fill="#ffe850"/>
<path d="M177,731 C152.7,725.8 178.5,707.7 180,700 C181.5,692.3 183.5,689.7 186,685 C188.5,680.3 191,675.8 195,672 C199,668.2 204.2,664.8 210,662 C215.8,659.2 223.3,657.3 230,655 C236.7,652.7 243.3,650.2 250,648 C256.7,645.8 263.3,643.3 270,642 C276.7,640.7 283.3,640 290,640 C296.7,640 304,641 310,642 C316,643 323.3,631.2 326,646 C328.7,660.8 350.8,716.8 326,731 C301.2,745.2 201.3,736.2 177,731Z" fill="#ffe850"/>
<path d="M185,731 C161.7,725.8 184.8,707.2 186,700 C187.2,692.8 188.8,691.7 192,688 C195.2,684.3 199.5,681 205,678 C210.5,675 218.3,672.7 225,670 C231.7,667.3 238.3,664.5 245,662 C251.7,659.5 258.3,656.7 265,655 C271.7,653.3 278.3,652.5 285,652 C291.7,651.5 298.2,651.7 305,652 C311.8,652.3 322.5,640.8 326,654 C329.5,667.2 349.5,718.2 326,731 C302.5,743.8 208.3,736.2 185,731Z" fill="#ffd028"/>
<path d="M192,710 C188.8,707 193.8,698.7 196,694 C198.2,689.3 201,685 205,682 C209,679 214.2,678 220,676 C225.8,674 233.3,672 240,670 C246.7,668 253.3,665.5 260,664 C266.7,662.5 273.3,661.5 280,661 C286.7,660.5 292.3,660.7 300,661 C307.7,661.3 321.7,653.8 326,663 C330.3,672.2 330.3,707.3 326,716 C321.7,724.7 309.3,715.3 300,715 C290.7,714.7 280,714.3 270,714 C260,713.7 249.2,713.3 240,713 C230.8,712.7 223,712.5 215,712 C207,711.5 195.2,713 192,710Z" fill="#ffb810"/>
<path d="M203.6,700 C201.6,697.5 205.6,691.3 208,688 C210.4,684.7 213.5,682.2 218,680 C222.5,677.8 228.8,676.7 235,675 C241.2,673.3 247.5,671.3 255,670 C262.5,668.7 271.7,667.3 280,667 C288.3,666.7 297.3,667.5 305,668 C312.7,668.5 322.5,663.3 326,670 C329.5,676.7 330.3,701.7 326,708 C321.7,714.3 309.3,708.2 300,708 C290.7,707.8 279.2,707.5 270,707 C260.8,706.5 253.3,705.7 245,705 C236.7,704.3 226.9,703.8 220,703 C213.1,702.2 205.6,702.5 203.6,700Z" fill="#ff9800"/>
<path d="M220.6,690 C220.3,687 222.8,682.3 226,680 C229.2,677.7 234.7,677 240,676.3 C245.3,675.6 253,675.4 258,676 C263,676.6 267.8,677.7 270,680 C272.2,682.3 272.3,686.8 271.5,690 C270.7,693.2 269.4,697.2 265,699 C260.6,700.8 251.2,700.8 245,700.6 C238.8,700.4 232.1,699.8 228,698 C223.9,696.2 220.9,693 220.6,690Z" fill="#ff7400"/>
<path d="M186,731 C179.3,728.5 186.8,718.5 190,716 C193.2,713.5 199.2,715.5 205,716 C210.8,716.5 220.8,716.5 225,719 C229.2,721.5 236.5,729 230,731 C223.5,733 192.7,733.5 186,731Z" fill="#ffe850"/>
<path d="M187,731 C163.8,725.8 185.7,706.8 187,700 C188.3,693.2 192.3,693 195,690 C197.7,687 199.7,684.3 203,682 C206.3,679.7 209.7,678.3 215,676 C220.3,673.7 228.3,670.7 235,668 C241.7,665.3 247.5,662.2 255,660 C262.5,657.8 272.5,655.7 280,655 C287.5,654.3 292.3,655.5 300,656 C307.7,656.5 321.7,645.5 326,658 C330.3,670.5 349.2,718.8 326,731 C302.8,743.2 210.2,736.2 187,731Z" fill="url(#stip)"/>
<path d="M150,566 C159,558.7 192.5,562 200,566 C207.5,570 197.5,582.7 195,590 C192.5,597.3 187.8,604.2 185,610 C182.2,615.8 180.5,620 178,625 C175.5,630 172.2,634.2 170,640 C167.8,645.8 166.3,651.7 165,660 C163.7,668.3 162,678.3 162,690 C162,701.7 167.8,723.3 165,730 C162.2,736.7 148.5,736.7 145,730 C141.5,723.3 144.3,703.3 144,690 C143.7,676.7 142.7,663.3 143,650 C143.3,636.7 144.8,624 146,610 C147.2,596 141,573.3 150,566Z" fill="url(#stip)"/>
<path d="M196,568 C206.7,560.7 252.2,565.7 262,568 C271.8,570.3 258.7,576.7 255,582 C251.3,587.3 245,595.3 240,600 C235,604.7 230,607.5 225,610 C220,612.5 214.5,614.7 210,615 C205.5,615.3 200.3,619.8 198,612 C195.7,604.2 185.3,575.3 196,568Z" fill="url(#stip)"/>
<path d="M54,568 112,568 112,590 104,600 100,640 90,648 70,642 62,625 56,600 54,580Z" fill="url(#stip)"/>
<path d="M82,640 C84,638.7 89,639.5 92,642 C95,644.5 98,650.3 100,655 C102,659.7 102.7,664.2 104,670 C105.3,675.8 107.7,685 108,690 C108.3,695 107.7,698 106,700 C104.3,702 100.7,703.7 98,702 C95.3,700.3 92.2,695.3 90,690 C87.8,684.7 86.7,676.7 85,670 C83.3,663.3 80.5,655 80,650 C79.5,645 80,641.3 82,640Z" fill="url(#stip)"/>
<path d="M114,690 C116.2,686.3 121.5,683.3 125,683 C128.5,682.7 131.7,685.2 135,688 C138.3,690.8 142.5,695.5 145,700 C147.5,704.5 149.5,710.3 150,715 C150.5,719.7 151.3,725.8 148,728 C144.7,730.2 135.5,729 130,728 C124.5,727 118,725.8 115,722 C112,718.2 112.2,710.3 112,705 C111.8,699.7 111.8,693.7 114,690Z" fill="url(#stip)"/>
<path d="M131.8,628.8 C133.1,625.9 139.1,625.9 140.6,628.8 C142.1,631.7 141.9,643.1 140.6,646 C139.3,648.9 134.5,648.9 133,646 C131.5,643.1 130.5,631.7 131.8,628.8Z" fill="url(#stip)"/>
<path d="M94,620 C97,617.2 111,617.2 114,620 C117,622.8 115,634.2 112,637 C109,639.8 99,639.8 96,637 C93,634.2 91,622.8 94,620Z" fill="url(#stip)"/>
<path d="M88,590 C91.3,584.2 106,585 110,590 C114,595 113.7,612.5 112,620 C110.3,627.5 103.7,634.2 100,635 C96.3,635.8 92,632.5 90,625 C88,617.5 84.7,595.8 88,590Z" fill="url(#stip)"/>
<path d="M53,603 56.5,603 57,612 63.2,612 63.2,699 79.3,699 79.3,707.6 91,707.6 91,716.4 96.8,716.4 96.8,723.6 112.9,723.6 112.9,731 53,731Z" fill="#c0c0c0"/>
<path d="M196,568.5 C196.4,568.8 196.5,568.6 198.3,570.3 C200.1,572 203.4,575.8 206.6,578.6 C209.8,581.4 214,586.5 217.7,587 C221.4,587.5 225.2,583.7 228.8,581.4 C232.5,579.1 237.1,574.9 239.6,573 C242.1,571.1 242.9,570.8 244,570 C245.1,569.2 245.7,568.8 246,568.5" fill="none" stroke="#000" stroke-width="1.1"/>
<path d="M180,567 C180.3,567.5 179.9,568.4 181.6,570.3 C183.3,572.2 186.8,575.8 190,578.6 C193.2,581.4 196.8,584.2 201,587 C205.2,589.8 210.9,594.1 214.9,595.3 C218.9,596.5 220.9,595.6 225,594.2 C229.1,592.8 235.4,589.6 239.6,586.9 C243.8,584.2 247.4,580.6 250,578 C252.6,575.4 253.8,572.8 255,571 C256.2,569.2 256.7,567.7 257,567" fill="none" stroke="#000" stroke-width="1.1"/>
<path d="M171,567 C171.2,567.5 171.1,567.9 171.9,570.3 C172.7,572.7 173.4,576.8 176,581.4 C178.6,586 182.6,593.8 187.2,598 C191.8,602.2 199.2,604.3 203.8,606.4 C208.4,608.5 211.4,610.6 214.9,610.5 C218.4,610.4 219.7,608.6 225,605.9 C230.3,603.2 240.8,598.6 246.9,594.2 C253,589.8 257.4,583.7 261.5,579.6 C265.6,575.5 269.8,571.5 271.7,569.4 C273.6,567.3 272.8,567.4 273,567" fill="none" stroke="#000" stroke-width="1.1"/>
<path d="M156,567 C156.1,567.5 155.3,567.4 156.6,570.3 C157.9,573.2 160.8,580 163.6,584.2 C166.4,588.4 171.2,592.7 173.3,595.3 C175.4,597.9 174.9,597.1 176,600 C177.1,602.9 178.5,608.5 180,612.8 C181.5,617 183.5,622.5 185,625.5 C186.5,628.5 187.2,632 188.9,630.7 C190.7,629.5 193.5,619.3 195.5,618 C197.5,616.7 198.2,621.5 201,623 C203.8,624.5 208.1,627.9 212.1,627.2 C216.1,626.5 219.2,622.1 225,619 C230.8,615.9 240.8,612.6 246.9,608.8 C253,605 257.1,600.4 261.5,596 C265.9,591.6 269.6,587 273.2,582.5 C276.8,578 281.2,571.6 283,569 C284.8,566.4 283.8,567.3 284,567" fill="none" stroke="#000" stroke-width="1.1"/>
<path d="M146.5,567 C146.6,569.2 146.8,574.5 147,580 C147.2,585.5 147.6,593.5 148,600 C148.4,606.5 148.9,612.4 149.3,619.2 C149.7,626 150.1,635.4 150.5,640.9 C150.9,646.4 150.5,650.5 151.8,652.4 C153.1,654.3 155.8,651.5 158.2,652.4 C160.5,653.2 164,657.7 165.9,657.5 C167.8,657.3 168.4,653.9 169.7,651.1 C171,648.3 172.4,642.4 173.5,640.9 C174.6,639.4 175.2,640.8 176,642.1 C176.8,643.4 177.1,647.6 178.6,648.5 C180.1,649.4 182.3,648.4 185,647.3 C187.7,646.2 192.8,643.8 195,642.1 C197.2,640.4 196.8,636.4 198.3,636.9 C199.8,637.4 199.4,645.8 203.8,645.2 C208.2,644.7 219,636.8 225,633.6 C231,630.5 234.7,629.7 239.6,626.3 C244.5,622.9 249.3,617.3 254.2,613.2 C259.1,609.1 264.4,604.7 268.8,601.5 C273.2,598.3 277.6,596.6 280.5,594.2 C283.4,591.8 285.1,589.3 286.3,586.9 C287.5,584.5 288.3,582.5 287.8,579.6 C287.3,576.7 284.4,571.5 283.4,569.4 C282.4,567.3 282.2,567.4 282,567" fill="none" stroke="#000" stroke-width="1.1"/>
<path d="M135.5,567 C136,572.5 137.6,592.4 138.4,600 C139.2,607.6 139.9,606.4 140.3,612.8 C140.7,619.2 140.8,630.2 141,638.3 C141.2,646.4 140.9,655.5 141.6,661.3 C142.3,667 143.9,669.6 145.4,672.8 C146.9,676 148.4,679.1 150.5,680.5 C152.6,681.9 155.4,681.3 158.2,681.1 C161,680.9 165.2,680.8 167.1,679.2 C169,677.6 168.6,673.9 169.7,671.5 C170.8,669.1 171.8,666.4 173.5,665.1 C175.2,663.8 177.8,664.8 179.9,663.9 C182,663 183.8,661.5 186.3,660 C188.8,658.5 188.6,656.5 195,655 C201.4,653.5 217.6,653.5 225,651.1 C232.4,648.8 234.7,644.8 239.6,640.9 C244.5,637 249.3,631.2 254.2,627.8 C259.1,624.4 263.4,622.2 268.8,620.5 C274.2,618.8 281,617.4 286.3,617.6 C291.6,617.8 296.5,620.5 300.9,621.9 C305.3,623.3 309.7,624.1 312.6,626.3 C315.5,628.5 316.2,633.5 318.4,635 C320.6,636.5 324.7,635 326,635" fill="none" stroke="#000" stroke-width="1.1"/>
<path d="M326,583.5 C325.2,583.5 323.1,583.1 321.4,583.2 C319.6,583.3 317.2,583.4 315.5,584 C313.8,584.6 312.8,586.8 311,586.9 C309.2,587 306.9,585 305,584.5 C303.1,584 300.8,583.2 299.5,584 C298.2,584.8 297.8,587.3 297.5,589 C297.2,590.7 297.2,592.6 298,594.2 C298.8,595.8 300.4,597.6 302.4,598.6 C304.3,599.6 307.5,598.8 309.7,600 C311.9,601.2 313.6,603.9 315.5,605.9 C317.4,607.9 319.6,610.5 321.4,611.7 C323.1,612.9 325.2,612.8 326,613" fill="none" stroke="#000" stroke-width="1.1"/>
<path d="M298,567.5 C298.5,567.6 298.5,567.4 300.9,567.9 C303.3,568.4 308.4,569.8 312.6,570.8 C316.8,571.8 323.8,573.3 326,573.8" fill="none" stroke="#000" stroke-width="1.1"/>
<path d="M305,566.5 C307.2,567 314.9,568.8 318.4,569.4 C321.9,570 324.7,569.9 326,570" fill="none" stroke="#000" stroke-width="1.1"/>
<path d="M156.4,731 C157,727.8 158.6,716.8 160,712 C161.4,707.2 163,705.1 165,702 C167,698.9 169.7,696.8 172.1,693.3 C174.5,689.8 177,684.4 179.4,681.2 C181.8,678 181.8,676 186.7,674 C191.5,672 202.1,670.6 208.5,669 C214.9,667.4 219.8,666.5 225,664.3 C230.2,662 234.7,658.2 239.6,655.5 C244.5,652.8 249.3,650.2 254.2,648.2 C259.1,646.2 263.9,644.5 268.8,643.8 C273.7,643.1 278.5,643.4 283.4,643.8 C288.3,644.2 293.1,645 298,646 C302.9,647 307.9,648.6 312.6,649.7 C317.3,650.8 323.8,652.1 326,652.6" fill="none" stroke="#000" stroke-width="1.8"/>
<path d="M210.9,692 C212.1,690.6 214.6,686 218.2,683.6 C221.8,681.2 227.1,680.4 232.7,677.6 C238.3,674.8 245.1,668.9 252,666.7 C258.9,664.5 266.6,664.2 273.9,664.2 C281.2,664.2 288,665.7 295.7,666.7 C303.4,667.7 314.8,669.6 319.9,670.3 C324.9,671 325,670.9 326,671" fill="none" stroke="#000" stroke-width="1.15" stroke-dasharray="3.2,2"/>
<path d="M326,710.3 C320.9,710.5 307.2,711.7 295.7,711.5 C284.2,711.3 267.4,710.8 256.9,709 C246.4,707.2 239.1,702.4 232.7,700.6 C226.2,698.8 221.8,699.6 218.2,698.2 C214.6,696.8 212.1,693 210.9,692" fill="none" stroke="#000" stroke-width="1.15" stroke-dasharray="3.2,2"/>
<path d="M115,566 C114.7,568.6 114.1,578 113,581.7 C111.9,585.4 109,582.8 108.6,588.2 C108.2,593.6 111.2,608.2 110.8,614.3 C110.4,620.4 108.2,619.6 106.4,625 C104.6,630.4 101.4,642.4 100,646.8 C98.6,651.2 98.9,651.6 97.8,651.2 C96.7,650.8 94.9,649.7 93.4,644.6 C91.9,639.5 90.5,628 89,620.8 C87.5,613.6 86,604.5 84.7,601.2 C83.5,597.9 82.6,597.2 81.5,601.2 C80.4,605.2 79.1,621.7 78.2,625 C77.3,628.3 76.7,625.5 76,620.8 C75.3,616.1 74.6,602.5 73.9,596.9 C73.2,591.3 73.2,588.5 71.7,587 C70.2,585.5 67,587.3 65.2,588.2 C63.4,589.1 62.4,591.1 60.9,592.6 C59.4,594.1 57.8,596.6 56.5,597 C55.2,597.4 53.8,595.1 53.3,594.7" fill="none" stroke="#000" stroke-width="1.6"/>
<path d="M64.1,623 C64,625.8 63.3,633.8 63.5,640 C63.7,646.2 64.5,653.1 65.2,660 C65.9,666.9 66.3,677.3 67.4,681.6 C68.5,685.9 71.2,683.1 71.7,686 C72.2,688.9 70.8,696.8 70.6,699" fill="none" stroke="#000" stroke-width="1.4"/>
<path d="M54,590 C54.5,590.5 56.8,591.7 57,593 C57.2,594.3 54.8,596.8 55,598 C55.2,599.2 57.5,599.7 58,600" fill="none" stroke="#000" stroke-width="1.2"/>
</g>
<path d="M404.3,49 409.4,57.4 411.5,82.6 421,95.2 435.6,94.1 441.9,93 452.4,97.3 473.4,99.4 490.1,98.3 504.8,84.7 513.2,74.2 519.5,69 530,76.3 540,80.5 548,86 556,93 572.7,95.2 580,100 595,105 610,100 630,101 652.3,99.3 669.1,88.9 674.8,72 674.8,150 669.1,160 660,150 652.3,143.3 644,151.7 629.3,147.5 614.6,158 606.2,155.9 600,170 593.7,183.1 586,165 576.9,141.3 560,120 540,114 525.8,112 513.2,114 488,118.2 479.6,124.5 473.4,116.1 452.4,116.1 431.4,118.2 412.6,120.3 408.4,139.2 404.3,135Z" fill="#f7b8c6" fill-opacity="0.37" clip-path="url(#pb)"/>
<path d="M404.3,107.5 430,104 445,104 460,107 490,106 520,109 535,111 560,113 576.9,105.6 585.3,80.5 595.8,66.9 604.1,72.1 614.6,81.5 623,76.3 635.6,69 641.8,72.1 648.1,88.9 654.4,106.7 654.4,106.7 631.4,109.8 614.6,114 597.9,114 576.9,118.2 558,128.7 545.5,124.5 535,123 520,120 490,116 460,115 445,110 430,108.5 404.3,111Z" fill="#9fd3ef" fill-opacity="0.45" clip-path="url(#pb)"/>
<path d="M404.3,57.4 409,62 412,90 425,100 450,103 480,102 500,100 513.2,82.6 530,90 545,100 560,104 575,108 590,100 606.2,74.2 612,90 630,98 652,100 669,92 674.8,85 674.8,140 669.1,163.2 655,140 640,132 620,128 600,130 580,134 560,126 540,124 513.2,122.4 490,116 460,114 430,116 412,118 404.3,125Z" fill="#9a9a9a" fill-opacity="0.26" clip-path="url(#pb)"/>
<line x1="404.3" y1="107.2" x2="674.9" y2="107.2" stroke="#000" stroke-width="1.1"/>
<path d="M404.2,109.4 C405.6,109.7 409.8,111.2 412.6,110.9 C415.4,110.6 418.2,108.7 421,107.7 C423.8,106.8 426.9,105.6 429.3,105.2 C431.7,104.8 433.5,105.1 435.6,105.6 C437.7,106.1 439.4,107.3 441.9,108.2 C444.3,109.1 446.8,110.3 450.3,110.9 C453.8,111.5 459,112.2 462.9,112 C466.8,111.8 469.9,110.3 473.4,109.8 C476.9,109.3 480.3,108.4 483.8,108.8 C487.3,109.2 490.8,111.1 494.3,112 C497.8,112.9 501,113.3 504.8,114 C508.6,114.7 513.9,115.5 517.4,116.1 C520.9,116.7 522.9,117.7 525.8,117.8 C528.7,117.9 531.4,116.4 535,116.5 C538.6,116.6 543.8,117.4 547.6,118.2 C551.4,119 554.9,121.3 558,121.3 C561.1,121.3 563.2,120.1 566.4,118.2 C569.5,116.3 573.8,113.3 576.9,109.8 C580,106.3 582.5,101.2 585.3,97.2 C588.1,93.2 591.6,87.9 593.7,85.7 C595.8,83.5 596.2,83.7 597.9,84.2 C599.6,84.7 601.3,86.7 604.1,88.9 C606.9,91.1 611.5,96.3 614.6,97.2 C617.8,98.1 620.2,95.3 623,94.1 C625.8,92.9 628.6,90.4 631.4,89.9 C634.2,89.4 637.4,89.6 639.8,91 C642.2,92.4 643.7,95.7 646,98.3 C648.3,100.9 648.6,105.3 653.4,106.7 C658.2,108.1 671.2,106.7 674.8,106.7" fill="none" stroke="#0000f0" stroke-width="2.1" stroke-linejoin="round" stroke-linecap="butt"/>
<path d="M404.2,87.8 L408.4,97.3 L411.0,98.0 L413.6,109.8 L416.8,112.0 L423.0,109.8 L427.2,113.0 L431.0,112.0 L434.6,110.9 L438.0,108.5 L441.9,105.6 L450.3,105.2 L458.7,104.6 L467.1,104.0 L472.3,106.7 L477.6,109.8 L481.7,112.0 L486.0,111.0 L490.1,107.7 L496.4,103.5 L502.7,101.5 L506.9,99.4 L511.1,97.3 L515.3,95.2 L519.5,92.0 L523.7,94.1 L530.0,99.4 L535.0,106.0 L543.4,104.6 L551.8,101.4 L562.2,100.4 L566.4,103.5 L570.6,109.8 L576.9,121.3 L583.2,130.8 L589.5,140.2 L594.7,149.6 L597.9,139.1 L604.1,126.6 L608.3,116.1 L613.6,124.5 L620.9,122.4 L629.3,123.4 L635.6,120.3 L639.8,122.4 L644.0,120.3 L648.1,126.6 L652.3,118.2 L655.0,119.0" fill="none" stroke="#f00000" stroke-width="2.1" stroke-linejoin="round" stroke-linecap="butt"/>
<path d="M404.2,88.9 L407.3,97.3 L409.4,100.4 L411.5,101.0 L413.0,112.0 L415.7,114.0 L418.9,114.0 L421.0,109.8 L424.0,110.0 L427.2,112.0 L431.4,109.8 L434.5,111.0 L437.7,107.7 L441.9,106.7 L448.2,108.8 L458.7,109.8 L469.2,108.8 L477.6,110.9 L483.8,114.0 L490.1,110.9 L496.4,109.8 L502.7,107.7 L506.9,104.6 L511.1,103.5 L514.2,101.5 L519.5,100.4 L523.0,104.0 L527.9,112.0 L532.0,116.1 L538.3,115.1 L545.5,114.0 L556.0,114.0 L562.2,113.0 L568.5,116.1 L572.7,119.2 L576.9,124.5 L583.2,125.5 L587.4,126.6 L590.5,125.0 L593.7,127.6 L595.8,124.5 L597.9,114.0 L602.0,108.8 L608.3,103.5 L610.4,109.8 L613.6,116.1 L618.8,111.9 L627.2,108.8 L634.5,103.9 L639.8,106.7 L644.0,108.8 L647.1,118.2 L651.3,121.3 L654.4,117.1 L657.6,122.4 L660.7,128.7 L665.0,127.5 L669.1,129.7 L671.2,124.5 L673.3,99.3 L674.8,97.0" fill="none" stroke="#000" stroke-width="2.1" stroke-linejoin="round" stroke-linecap="butt"/>
<line x1="427.2" y1="151.3" x2="443" y2="151.3" stroke="#000" stroke-width="2"/>
<text x="444.6" y="154.9" font-size="10" transform="translate(0,-18.59) scale(1,1.12)">OHS</text>
<line x1="427.2" y1="164.8" x2="443" y2="164.8" stroke="#e00000" stroke-width="2"/>
<text x="444.6" y="168.4" font-size="10" textLength="54" lengthAdjust="spacing" transform="translate(0,-20.21) scale(1,1.12)">&#8211;&#8706;(OHT)/&#8706;y</text>
<line x1="427.2" y1="179.6" x2="443" y2="179.6" stroke="#0000e8" stroke-width="2"/>
<text x="444.6" y="183.2" font-size="10" transform="translate(0,-21.98) scale(1,1.12)">OHU</text>
<path d="M404.3,323.2 410.5,325.3 412.6,346.3 421,344.2 431.4,326.4 441.9,335.8 454.5,329.5 462.9,337.9 473.4,335.8 485.9,331.6 494.3,350.5 504.8,356.8 517.4,327.4 525.8,333.7 535,344.2 545.5,356.8 560.1,365.1 570.6,350.5 573.8,313.8 576.9,327.4 579,354.7 585.3,358.9 591.6,367.2 600,366 618.8,365.1 639.8,365.1 652,368 674.8,376 674.8,379 652,380 623,385 610.4,394.5 604,404 597.9,417.5 591,425 588.4,451 586,420 583,405 576,398 566,392 556,388.2 545.5,394.5 535,392 515,398 504.8,402.9 490,396 480,390 462.9,384 440,385 421,381.9 412.6,390.3 410.5,457.4 404.3,434.3Z" fill="#f7b8c6" fill-opacity="0.37" clip-path="url(#pd)"/>
<path d="M404.3,378 421,380 441.9,386 462.9,384 483.8,386 500.6,378 513.2,374 525.8,378 540,376 560,378 576.9,390 585,380 592,367 600,361 606,366 612,378 640,381 652,379 660,378 660,378 650,382 640,390 620,392 612,394 604,398 595,404 585,412 576.9,407 566,400 556,392 545.5,396 540,398 530,404 525.8,412.3 513.2,405 500.6,413.4 488,423.9 478,421 462.9,413.4 441.9,409.2 421,398.7 412.6,392 404.3,384Z" fill="#9fd3ef" fill-opacity="0.45" clip-path="url(#pd)"/>
<path d="M404.3,340 410.5,345 412.6,352 431.4,352.6 446.1,362 460,358 475,360 494.3,364 504.8,368 517.4,337.9 525.8,339.7 540,354 556,364 568,368 573.8,330 577,345 580,365 590,372 600,374 618,372 640,373 660,374 674.8,376 674.8,379 640,380 620,384 606,392 598,405 592,418 588.4,440 585,420 580,405 570,394 556,390 540,397 525.8,405 513.2,404 500,400 483.8,392 462.9,398 441.9,388 421,384 412.6,390 410.5,440 404.3,420Z" fill="#9a9a9a" fill-opacity="0.26" clip-path="url(#pd)"/>
<line x1="404.3" y1="377.5" x2="674.9" y2="377.5" stroke="#000" stroke-width="1.1"/>
<path d="M404.2,379.8 C405.6,380 410.2,380.2 412.6,380.9 C415.1,381.6 416.5,381.9 418.9,384 C421.3,386.1 424.1,390.7 427.2,393.5 C430.3,396.3 434.5,399.4 437.7,400.8 C440.9,402.2 443.3,402 446.1,401.8 C448.9,401.6 451.7,400.4 454.5,399.7 C457.3,399 460.1,397.3 462.9,397.7 C465.7,398.1 468.7,400.2 471.3,401.8 C473.9,403.4 476.2,406.8 478.6,407.1 C481,407.5 483.3,405.6 485.9,403.9 C488.5,402.1 491.9,399.2 494.3,396.6 C496.8,394 498.5,390.3 500.6,388.2 C502.7,386.1 504.8,384 506.9,384 C509,384 510.8,386.1 513.2,388.2 C515.7,390.3 518.8,395.9 521.6,396.6 C524.4,397.3 527.8,394 530,392.4 C532.2,390.8 532.4,389 535,387.1 C537.6,385.2 542,382.6 545.5,380.9 C549,379.2 553.2,377 556,376.7 C558.8,376.4 560.1,377.6 562.2,378.8 C564.3,380 566,381.4 568.5,384 C571,386.6 574.6,392.5 576.9,394.5 C579.2,396.5 580.4,397.2 582.1,396.1 C583.9,395.1 585.5,391.1 587.4,388.2 C589.3,385.3 591.8,381 593.7,378.8 C595.6,376.6 596.8,375.2 598.9,375.2 C601,375.2 603.6,377.5 606.2,378.8 C608.8,380.1 611.8,382 614.6,383 C617.4,384 618.8,384.7 623,385 C627.2,385.3 636,385.7 639.8,385 C643.6,384.3 643.9,382.1 646,380.9 C648.1,379.7 647.5,378.3 652.3,377.7 C657.1,377.1 671,377.5 674.8,377.5" fill="none" stroke="#0000f0" stroke-width="2.1" stroke-linejoin="round" stroke-linecap="butt"/>
<path d="M404.2,399.7 L408.4,388.2 L410.5,387.2 L412.6,366.2 L416.8,369.4 L421.0,365.2 L427.2,358.9 L433.5,350.5 L437.7,348.0 L441.9,348.8 L446.1,353.6 L452.4,357.8 L458.7,356.8 L465.0,355.7 L471.3,355.7 L475.5,353.6 L481.7,357.8 L485.9,358.9 L490.1,365.2 L496.4,373.5 L502.7,378.8 L506.9,373.5 L513.2,358.9 L519.5,348.0 L525.8,354.7 L534.1,365.2 L535.0,364.1 L543.4,371.4 L551.8,377.7 L558.0,378.8 L564.3,375.6 L569.6,365.1 L573.8,352.6 L575.9,353.6 L579.0,368.3 L584.2,379.8 L586.3,392.4 L589.5,403.9 L591.6,394.5 L595.8,397.6 L602.0,393.4 L608.3,388.2 L614.6,379.8 L620.9,371.4 L627.2,369.7 L635.6,369.7 L639.8,368.9 L646.0,372.5 L651.3,375.2 L656.0,377.0" fill="none" stroke="#f00000" stroke-width="2.1" stroke-linejoin="round" stroke-linecap="butt"/>
<path d="M404.2,400.8 L406.3,394.5 L408.4,390.3 L411.5,388.2 L412.6,369.4 L414.5,369.0 L416.8,371.5 L421.0,370.4 L425.0,370.5 L427.2,371.5 L431.4,369.0 L435.6,369.8 L439.8,372.5 L444.0,376.7 L450.3,379.8 L456.6,377.7 L462.9,375.6 L467.1,376.7 L471.3,379.8 L477.6,383.0 L481.7,387.2 L485.9,385.1 L490.1,388.2 L496.4,389.3 L500.6,387.2 L504.8,381.9 L509.0,373.5 L513.2,368.3 L518.4,367.3 L521.6,370.4 L525.8,373.5 L535.0,374.0 L543.4,375.6 L551.8,379.8 L558.0,380.9 L566.4,379.8 L570.6,373.5 L573.8,368.3 L575.9,370.4 L578.0,384.0 L582.1,392.4 L585.3,398.7 L586.3,410.2 L589.5,410.2 L591.6,396.6 L594.7,394.5 L597.9,394.5 L602.0,392.4 L606.2,391.3 L612.5,386.1 L618.8,379.8 L625.1,377.7 L633.5,377.3 L643.9,377.7 L650.2,375.6 L656.5,376.7 L660.7,375.2 L664.0,377.5 L674.8,377.0" fill="none" stroke="#000" stroke-width="2.1" stroke-linejoin="round" stroke-linecap="butt"/>
<line x1="427.2" y1="421.3" x2="443" y2="421.3" stroke="#000" stroke-width="2"/>
<text x="444.6" y="424.90000000000003" font-size="10" transform="translate(0,-50.99) scale(1,1.12)">OHS</text>
<line x1="427.2" y1="434.8" x2="443" y2="434.8" stroke="#e00000" stroke-width="2"/>
<text x="444.6" y="438.40000000000003" font-size="10" textLength="54" lengthAdjust="spacing" transform="translate(0,-52.61) scale(1,1.12)">&#8211;&#8706;(OHT)/&#8706;y</text>
<line x1="427.2" y1="449.6" x2="443" y2="449.6" stroke="#0000e8" stroke-width="2"/>
<text x="444.6" y="453.20000000000005" font-size="10" transform="translate(0,-54.38) scale(1,1.12)">OHU</text>
<path d="M404.3,645.6 421,642.5 441.9,645 462.9,635.2 483.8,637 504.8,638 525.8,645 535,643.5 556,641.4 566.4,633 576.9,633 597.9,626.8 604.1,612.1 610.4,602.7 618.8,616.3 627.2,628.9 637.7,639.3 643.9,612.1 660.7,598.5 664.9,605.8 674.8,607.9 674.8,727 667,727 664,700 660,727 643.9,727.3 639.8,708.5 629.3,683.3 620,683 600,680 580,678 556,675 535,675 525.8,670.8 506.9,689.7 483.8,683.4 462.9,675 441.9,660.3 421,653 404.3,650Z" fill="#f7b8c6" fill-opacity="0.37" clip-path="url(#pf)"/>
<path d="M404.3,645.6 421,644 441.9,635.2 462.9,626.8 483.8,620.5 496.4,617.4 513.2,621.5 525.8,628.9 540,639.4 556,656 576.9,665 597.9,672 615,668 629,662 629,675 620,690 610,703 597.9,708.5 576.9,695 556,680 540,670 530,662 520,656 504.8,653 483.8,653 462.9,654 441.9,654 421,652 404.3,650Z" fill="#9fd3ef" fill-opacity="0.45" clip-path="url(#pf)"/>
<path d="M404.3,646 421,646 441.9,642 462.9,640 483.8,642 504.8,642 525.8,648 540,652 560,655 580,645 597.9,639.3 618.8,637.2 635,642 643.9,618.4 660.7,605.8 670,615 674.8,620 674.8,690 670,700 665,727 650,727 645,714 639.8,700 620,704 597.9,716.8 576.9,705 556,695 540,687.6 525.8,682 504.8,675 483.8,670 462.9,665 441.9,658 421,653 404.3,650Z" fill="#9a9a9a" fill-opacity="0.26" clip-path="url(#pf)"/>
<line x1="404.3" y1="648" x2="674.9" y2="648" stroke="#808080" stroke-width="1.6"/>
<path d="M404.2,647.3 C406.3,647.9 412.6,650.1 416.8,650.9 C421,651.7 425.1,652.1 429.3,651.9 C433.5,651.7 438,650.7 441.9,649.8 C445.8,648.9 448.9,647.6 452.4,646.7 C455.9,645.8 459.4,645.3 462.9,644.6 C466.4,643.9 469.9,643.5 473.4,642.5 C476.9,641.5 480.7,639.5 483.8,638.3 C486.9,637.1 489.4,636 492.2,635.2 C495,634.4 498.2,633.5 500.6,633.5 C503.1,633.5 504.4,634.2 506.9,635.2 C509.3,636.2 512.5,637.7 515.3,639.4 C518.1,641.1 520.9,643.5 523.7,645.6 C526.5,647.7 530.1,650.7 532,651.9 C533.9,653.1 533.1,651.4 535,653 C536.9,654.6 539.9,658.2 543.4,661.3 C546.9,664.4 552.2,669 556,671.8 C559.8,674.6 562.9,676.2 566.4,678.1 C569.9,680 573.4,681.8 576.9,683.3 C580.4,684.8 583.9,686.4 587.4,687.1 C590.9,687.8 594.4,688.1 597.9,687.5 C601.4,686.9 604.8,686.1 608.3,683.3 C611.8,680.5 615.3,674.6 618.8,670.8 C622.3,667 626.1,662.6 629.3,660.3 C632.4,658 634.6,657.3 637.7,657.1 C640.8,656.9 644.3,658.2 648.1,659.2 C651.9,660.2 657.2,663.4 660.7,663.4 C664.2,663.4 666.8,660.4 669.1,659.2 C671.5,658 673.8,656.8 674.8,656.3" fill="none" stroke="#0000f0" stroke-width="2.1" stroke-linejoin="round" stroke-linecap="butt"/>
<path d="M404.2,647.3 L412.6,646.7 L423.0,646.7 L433.5,648.8 L441.9,651.9 L452.4,654.0 L462.9,655.1 L473.4,656.1 L483.8,660.3 L494.3,664.1 L502.7,666.2 L513.2,665.6 L521.6,663.5 L530.0,661.4 L535.0,660.3 L541.3,658.2 L547.6,656.1 L553.9,656.1 L562.2,652.9 L570.6,649.8 L576.9,650.9 L587.4,650.2 L597.9,649.4 L604.1,643.9 L609.4,641.8 L614.6,644.6 L620.9,650.9 L629.3,658.2 L635.6,664.5 L639.8,675.0 L643.9,685.4 L652.3,677.0 L660.7,670.8 L667.0,660.3 L671.2,638.3 L674.3,638.3" fill="none" stroke="#f00000" stroke-width="2.1" stroke-linejoin="round" stroke-linecap="butt"/>
<path d="M404.2,646.7 L416.8,648.2 L427.2,649.8 L437.7,653.0 L446.1,654.0 L458.7,653.0 L469.2,650.9 L483.8,649.4 L496.4,649.8 L504.8,652.0 L513.2,655.1 L521.6,659.3 L530.0,663.5 L536.2,668.7 L543.4,670.8 L553.9,677.0 L560.1,679.1 L570.6,681.2 L576.9,685.4 L587.4,688.6 L598.9,689.6 L604.1,682.3 L610.4,676.0 L618.8,671.8 L627.2,670.8 L633.5,672.8 L637.7,677.0 L640.8,687.5 L643.9,695.9 L652.3,690.7 L660.7,686.5 L667.0,674.9 L670.1,660.3 L673.3,647.7 L674.8,646.0" fill="none" stroke="#000" stroke-width="2.1" stroke-linejoin="round" stroke-linecap="butt"/>
<line x1="427.2" y1="691.3" x2="443" y2="691.3" stroke="#000" stroke-width="2"/>
<text x="444.6" y="694.9" font-size="10" transform="translate(0,-83.39) scale(1,1.12)">OHS</text>
<line x1="427.2" y1="704.8" x2="443" y2="704.8" stroke="#e00000" stroke-width="2"/>
<text x="444.6" y="708.4" font-size="10" textLength="54" lengthAdjust="spacing" transform="translate(0,-85.01) scale(1,1.12)">&#8211;&#8706;(OHT)/&#8706;y</text>
<line x1="427.2" y1="719.6" x2="443" y2="719.6" stroke="#0000e8" stroke-width="2"/>
<text x="444.6" y="723.2" font-size="10" transform="translate(0,-86.78) scale(1,1.12)">OHU</text>
<line x1="53.5" y1="26" x2="53.5" y2="19.7" stroke="#000" stroke-width="1.3"/>
<line x1="53.5" y1="188.4" x2="53.5" y2="194.7" stroke="#000" stroke-width="1.3"/>
<line x1="134.8" y1="26" x2="134.8" y2="19.7" stroke="#000" stroke-width="1.3"/>
<line x1="134.8" y1="188.4" x2="134.8" y2="194.7" stroke="#000" stroke-width="1.3"/>
<line x1="216.1" y1="26" x2="216.1" y2="19.7" stroke="#000" stroke-width="1.3"/>
<line x1="216.1" y1="188.4" x2="216.1" y2="194.7" stroke="#000" stroke-width="1.3"/>
<line x1="297.4" y1="26" x2="297.4" y2="19.7" stroke="#000" stroke-width="1.3"/>
<line x1="297.4" y1="188.4" x2="297.4" y2="194.7" stroke="#000" stroke-width="1.3"/>
<line x1="80.6" y1="26" x2="80.6" y2="22.8" stroke="#000" stroke-width="1.04"/>
<line x1="80.6" y1="188.4" x2="80.6" y2="191.6" stroke="#000" stroke-width="1.04"/>
<line x1="107.7" y1="26" x2="107.7" y2="22.8" stroke="#000" stroke-width="1.04"/>
<line x1="107.7" y1="188.4" x2="107.7" y2="191.6" stroke="#000" stroke-width="1.04"/>
<line x1="161.9" y1="26" x2="161.9" y2="22.8" stroke="#000" stroke-width="1.04"/>
<line x1="161.9" y1="188.4" x2="161.9" y2="191.6" stroke="#000" stroke-width="1.04"/>
<line x1="189" y1="26" x2="189" y2="22.8" stroke="#000" stroke-width="1.04"/>
<line x1="189" y1="188.4" x2="189" y2="191.6" stroke="#000" stroke-width="1.04"/>
<line x1="243.2" y1="26" x2="243.2" y2="22.8" stroke="#000" stroke-width="1.04"/>
<line x1="243.2" y1="188.4" x2="243.2" y2="191.6" stroke="#000" stroke-width="1.04"/>
<line x1="270.3" y1="26" x2="270.3" y2="22.8" stroke="#000" stroke-width="1.04"/>
<line x1="270.3" y1="188.4" x2="270.3" y2="191.6" stroke="#000" stroke-width="1.04"/>
<line x1="324.5" y1="26" x2="324.5" y2="22.8" stroke="#000" stroke-width="1.04"/>
<line x1="324.5" y1="188.4" x2="324.5" y2="191.6" stroke="#000" stroke-width="1.04"/>
<line x1="53.5" y1="26" x2="47.2" y2="26" stroke="#000" stroke-width="1.3"/>
<line x1="324.6" y1="26" x2="330.9" y2="26" stroke="#000" stroke-width="1.3"/>
<line x1="53.5" y1="59.05" x2="47.2" y2="59.05" stroke="#000" stroke-width="1.3"/>
<line x1="324.6" y1="59.05" x2="330.9" y2="59.05" stroke="#000" stroke-width="1.3"/>
<line x1="53.5" y1="92.1" x2="47.2" y2="92.1" stroke="#000" stroke-width="1.3"/>
<line x1="324.6" y1="92.1" x2="330.9" y2="92.1" stroke="#000" stroke-width="1.3"/>
<line x1="53.5" y1="125.15" x2="47.2" y2="125.15" stroke="#000" stroke-width="1.3"/>
<line x1="324.6" y1="125.15" x2="330.9" y2="125.15" stroke="#000" stroke-width="1.3"/>
<line x1="53.5" y1="158.2" x2="47.2" y2="158.2" stroke="#000" stroke-width="1.3"/>
<line x1="324.6" y1="158.2" x2="330.9" y2="158.2" stroke="#000" stroke-width="1.3"/>
<line x1="53.5" y1="34.26" x2="50.3" y2="34.26" stroke="#000" stroke-width="1.04"/>
<line x1="324.6" y1="34.26" x2="327.8" y2="34.26" stroke="#000" stroke-width="1.04"/>
<line x1="53.5" y1="42.52" x2="50.3" y2="42.52" stroke="#000" stroke-width="1.04"/>
<line x1="324.6" y1="42.52" x2="327.8" y2="42.52" stroke="#000" stroke-width="1.04"/>
<line x1="53.5" y1="50.79" x2="50.3" y2="50.79" stroke="#000" stroke-width="1.04"/>
<line x1="324.6" y1="50.79" x2="327.8" y2="50.79" stroke="#000" stroke-width="1.04"/>
<line x1="53.5" y1="67.31" x2="50.3" y2="67.31" stroke="#000" stroke-width="1.04"/>
<line x1="324.6" y1="67.31" x2="327.8" y2="67.31" stroke="#000" stroke-width="1.04"/>
<line x1="53.5" y1="75.57" x2="50.3" y2="75.57" stroke="#000" stroke-width="1.04"/>
<line x1="324.6" y1="75.57" x2="327.8" y2="75.57" stroke="#000" stroke-width="1.04"/>
<line x1="53.5" y1="83.84" x2="50.3" y2="83.84" stroke="#000" stroke-width="1.04"/>
<line x1="324.6" y1="83.84" x2="327.8" y2="83.84" stroke="#000" stroke-width="1.04"/>
<line x1="53.5" y1="100.36" x2="50.3" y2="100.36" stroke="#000" stroke-width="1.04"/>
<line x1="324.6" y1="100.36" x2="327.8" y2="100.36" stroke="#000" stroke-width="1.04"/>
<line x1="53.5" y1="108.62" x2="50.3" y2="108.62" stroke="#000" stroke-width="1.04"/>
<line x1="324.6" y1="108.62" x2="327.8" y2="108.62" stroke="#000" stroke-width="1.04"/>
<line x1="53.5" y1="116.89" x2="50.3" y2="116.89" stroke="#000" stroke-width="1.04"/>
<line x1="324.6" y1="116.89" x2="327.8" y2="116.89" stroke="#000" stroke-width="1.04"/>
<line x1="53.5" y1="133.41" x2="50.3" y2="133.41" stroke="#000" stroke-width="1.04"/>
<line x1="324.6" y1="133.41" x2="327.8" y2="133.41" stroke="#000" stroke-width="1.04"/>
<line x1="53.5" y1="141.67" x2="50.3" y2="141.67" stroke="#000" stroke-width="1.04"/>
<line x1="324.6" y1="141.67" x2="327.8" y2="141.67" stroke="#000" stroke-width="1.04"/>
<line x1="53.5" y1="149.94" x2="50.3" y2="149.94" stroke="#000" stroke-width="1.04"/>
<line x1="324.6" y1="149.94" x2="327.8" y2="149.94" stroke="#000" stroke-width="1.04"/>
<line x1="53.5" y1="166.46" x2="50.3" y2="166.46" stroke="#000" stroke-width="1.04"/>
<line x1="324.6" y1="166.46" x2="327.8" y2="166.46" stroke="#000" stroke-width="1.04"/>
<line x1="53.5" y1="174.72" x2="50.3" y2="174.72" stroke="#000" stroke-width="1.04"/>
<line x1="324.6" y1="174.72" x2="327.8" y2="174.72" stroke="#000" stroke-width="1.04"/>
<line x1="53.5" y1="182.99" x2="50.3" y2="182.99" stroke="#000" stroke-width="1.04"/>
<line x1="324.6" y1="182.99" x2="327.8" y2="182.99" stroke="#000" stroke-width="1.04"/>
<rect x="53.5" y="26" width="271.1" height="162.4" fill="none" stroke="#000" stroke-width="2.0"/>
<text x="0" y="0" font-size="9.7" text-anchor="middle" font-weight="normal" transform="translate(53.5,209.7) scale(1,1.12)" >30<tspan font-size="6.3" dy="-4">o</tspan><tspan dy="4">S</tspan></text>
<text x="0" y="0" font-size="9.7" text-anchor="middle" font-weight="normal" transform="translate(134.8,209.7) scale(1,1.12)" >0<tspan font-size="6.3" dy="-4">o</tspan></text>
<text x="0" y="0" font-size="9.7" text-anchor="middle" font-weight="normal" transform="translate(216.1,209.7) scale(1,1.12)" >30<tspan font-size="6.3" dy="-4">o</tspan><tspan dy="4">N</tspan></text>
<text x="0" y="0" font-size="9.7" text-anchor="middle" font-weight="normal" transform="translate(297.4,209.7) scale(1,1.12)" >60<tspan font-size="6.3" dy="-4">o</tspan><tspan dy="4">N</tspan></text>
<text x="0" y="0" font-size="9.7" text-anchor="end" font-weight="normal" transform="translate(41.3,29.5) scale(1,1.12)" >0</text>
<text x="0" y="0" font-size="9.7" text-anchor="end" font-weight="normal" transform="translate(41.3,62.55) scale(1,1.12)" >1000</text>
<text x="0" y="0" font-size="9.7" text-anchor="end" font-weight="normal" transform="translate(41.3,95.6) scale(1,1.12)" >2000</text>
<text x="0" y="0" font-size="9.7" text-anchor="end" font-weight="normal" transform="translate(41.3,128.65) scale(1,1.12)" >3000</text>
<text x="0" y="0" font-size="9.7" text-anchor="end" font-weight="normal" transform="translate(41.3,161.7) scale(1,1.12)" >4000</text>
<text x="0" y="0" font-size="11.9" text-anchor="middle" font-weight="normal" transform="translate(9.3,107.2) rotate(-90)">Depth (m)</text>
<line x1="53.5" y1="296.3" x2="53.5" y2="290" stroke="#000" stroke-width="1.3"/>
<line x1="53.5" y1="458.7" x2="53.5" y2="465" stroke="#000" stroke-width="1.3"/>
<line x1="134.8" y1="296.3" x2="134.8" y2="290" stroke="#000" stroke-width="1.3"/>
<line x1="134.8" y1="458.7" x2="134.8" y2="465" stroke="#000" stroke-width="1.3"/>
<line x1="216.1" y1="296.3" x2="216.1" y2="290" stroke="#000" stroke-width="1.3"/>
<line x1="216.1" y1="458.7" x2="216.1" y2="465" stroke="#000" stroke-width="1.3"/>
<line x1="297.4" y1="296.3" x2="297.4" y2="290" stroke="#000" stroke-width="1.3"/>
<line x1="297.4" y1="458.7" x2="297.4" y2="465" stroke="#000" stroke-width="1.3"/>
<line x1="80.6" y1="296.3" x2="80.6" y2="293.1" stroke="#000" stroke-width="1.04"/>
<line x1="80.6" y1="458.7" x2="80.6" y2="461.9" stroke="#000" stroke-width="1.04"/>
<line x1="107.7" y1="296.3" x2="107.7" y2="293.1" stroke="#000" stroke-width="1.04"/>
<line x1="107.7" y1="458.7" x2="107.7" y2="461.9" stroke="#000" stroke-width="1.04"/>
<line x1="161.9" y1="296.3" x2="161.9" y2="293.1" stroke="#000" stroke-width="1.04"/>
<line x1="161.9" y1="458.7" x2="161.9" y2="461.9" stroke="#000" stroke-width="1.04"/>
<line x1="189" y1="296.3" x2="189" y2="293.1" stroke="#000" stroke-width="1.04"/>
<line x1="189" y1="458.7" x2="189" y2="461.9" stroke="#000" stroke-width="1.04"/>
<line x1="243.2" y1="296.3" x2="243.2" y2="293.1" stroke="#000" stroke-width="1.04"/>
<line x1="243.2" y1="458.7" x2="243.2" y2="461.9" stroke="#000" stroke-width="1.04"/>
<line x1="270.3" y1="296.3" x2="270.3" y2="293.1" stroke="#000" stroke-width="1.04"/>
<line x1="270.3" y1="458.7" x2="270.3" y2="461.9" stroke="#000" stroke-width="1.04"/>
<line x1="324.5" y1="296.3" x2="324.5" y2="293.1" stroke="#000" stroke-width="1.04"/>
<line x1="324.5" y1="458.7" x2="324.5" y2="461.9" stroke="#000" stroke-width="1.04"/>
<line x1="53.5" y1="296.3" x2="47.2" y2="296.3" stroke="#000" stroke-width="1.3"/>
<line x1="324.6" y1="296.3" x2="330.9" y2="296.3" stroke="#000" stroke-width="1.3"/>
<line x1="53.5" y1="329.35" x2="47.2" y2="329.35" stroke="#000" stroke-width="1.3"/>
<line x1="324.6" y1="329.35" x2="330.9" y2="329.35" stroke="#000" stroke-width="1.3"/>
<line x1="53.5" y1="362.4" x2="47.2" y2="362.4" stroke="#000" stroke-width="1.3"/>
<line x1="324.6" y1="362.4" x2="330.9" y2="362.4" stroke="#000" stroke-width="1.3"/>
<line x1="53.5" y1="395.45" x2="47.2" y2="395.45" stroke="#000" stroke-width="1.3"/>
<line x1="324.6" y1="395.45" x2="330.9" y2="395.45" stroke="#000" stroke-width="1.3"/>
<line x1="53.5" y1="428.5" x2="47.2" y2="428.5" stroke="#000" stroke-width="1.3"/>
<line x1="324.6" y1="428.5" x2="330.9" y2="428.5" stroke="#000" stroke-width="1.3"/>
<line x1="53.5" y1="304.56" x2="50.3" y2="304.56" stroke="#000" stroke-width="1.04"/>
<line x1="324.6" y1="304.56" x2="327.8" y2="304.56" stroke="#000" stroke-width="1.04"/>
<line x1="53.5" y1="312.82" x2="50.3" y2="312.82" stroke="#000" stroke-width="1.04"/>
<line x1="324.6" y1="312.82" x2="327.8" y2="312.82" stroke="#000" stroke-width="1.04"/>
<line x1="53.5" y1="321.09" x2="50.3" y2="321.09" stroke="#000" stroke-width="1.04"/>
<line x1="324.6" y1="321.09" x2="327.8" y2="321.09" stroke="#000" stroke-width="1.04"/>
<line x1="53.5" y1="337.61" x2="50.3" y2="337.61" stroke="#000" stroke-width="1.04"/>
<line x1="324.6" y1="337.61" x2="327.8" y2="337.61" stroke="#000" stroke-width="1.04"/>
<line x1="53.5" y1="345.88" x2="50.3" y2="345.88" stroke="#000" stroke-width="1.04"/>
<line x1="324.6" y1="345.88" x2="327.8" y2="345.88" stroke="#000" stroke-width="1.04"/>
<line x1="53.5" y1="354.14" x2="50.3" y2="354.14" stroke="#000" stroke-width="1.04"/>
<line x1="324.6" y1="354.14" x2="327.8" y2="354.14" stroke="#000" stroke-width="1.04"/>
<line x1="53.5" y1="370.66" x2="50.3" y2="370.66" stroke="#000" stroke-width="1.04"/>
<line x1="324.6" y1="370.66" x2="327.8" y2="370.66" stroke="#000" stroke-width="1.04"/>
<line x1="53.5" y1="378.93" x2="50.3" y2="378.93" stroke="#000" stroke-width="1.04"/>
<line x1="324.6" y1="378.93" x2="327.8" y2="378.93" stroke="#000" stroke-width="1.04"/>
<line x1="53.5" y1="387.19" x2="50.3" y2="387.19" stroke="#000" stroke-width="1.04"/>
<line x1="324.6" y1="387.19" x2="327.8" y2="387.19" stroke="#000" stroke-width="1.04"/>
<line x1="53.5" y1="403.71" x2="50.3" y2="403.71" stroke="#000" stroke-width="1.04"/>
<line x1="324.6" y1="403.71" x2="327.8" y2="403.71" stroke="#000" stroke-width="1.04"/>
<line x1="53.5" y1="411.98" x2="50.3" y2="411.98" stroke="#000" stroke-width="1.04"/>
<line x1="324.6" y1="411.98" x2="327.8" y2="411.98" stroke="#000" stroke-width="1.04"/>
<line x1="53.5" y1="420.24" x2="50.3" y2="420.24" stroke="#000" stroke-width="1.04"/>
<line x1="324.6" y1="420.24" x2="327.8" y2="420.24" stroke="#000" stroke-width="1.04"/>
<line x1="53.5" y1="436.76" x2="50.3" y2="436.76" stroke="#000" stroke-width="1.04"/>
<line x1="324.6" y1="436.76" x2="327.8" y2="436.76" stroke="#000" stroke-width="1.04"/>
<line x1="53.5" y1="445.02" x2="50.3" y2="445.02" stroke="#000" stroke-width="1.04"/>
<line x1="324.6" y1="445.02" x2="327.8" y2="445.02" stroke="#000" stroke-width="1.04"/>
<line x1="53.5" y1="453.29" x2="50.3" y2="453.29" stroke="#000" stroke-width="1.04"/>
<line x1="324.6" y1="453.29" x2="327.8" y2="453.29" stroke="#000" stroke-width="1.04"/>
<rect x="53.5" y="296.3" width="271.1" height="162.4" fill="none" stroke="#000" stroke-width="2.0"/>
<text x="0" y="0" font-size="9.7" text-anchor="middle" font-weight="normal" transform="translate(53.5,480) scale(1,1.12)" >30<tspan font-size="6.3" dy="-4">o</tspan><tspan dy="4">S</tspan></text>
<text x="0" y="0" font-size="9.7" text-anchor="middle" font-weight="normal" transform="translate(134.8,480) scale(1,1.12)" >0<tspan font-size="6.3" dy="-4">o</tspan></text>
<text x="0" y="0" font-size="9.7" text-anchor="middle" font-weight="normal" transform="translate(216.1,480) scale(1,1.12)" >30<tspan font-size="6.3" dy="-4">o</tspan><tspan dy="4">N</tspan></text>
<text x="0" y="0" font-size="9.7" text-anchor="middle" font-weight="normal" transform="translate(297.4,480) scale(1,1.12)" >60<tspan font-size="6.3" dy="-4">o</tspan><tspan dy="4">N</tspan></text>
<text x="0" y="0" font-size="9.7" text-anchor="end" font-weight="normal" transform="translate(41.3,299.8) scale(1,1.12)" >0</text>
<text x="0" y="0" font-size="9.7" text-anchor="end" font-weight="normal" transform="translate(41.3,332.85) scale(1,1.12)" >1000</text>
<text x="0" y="0" font-size="9.7" text-anchor="end" font-weight="normal" transform="translate(41.3,365.9) scale(1,1.12)" >2000</text>
<text x="0" y="0" font-size="9.7" text-anchor="end" font-weight="normal" transform="translate(41.3,398.95) scale(1,1.12)" >3000</text>
<text x="0" y="0" font-size="9.7" text-anchor="end" font-weight="normal" transform="translate(41.3,432) scale(1,1.12)" >4000</text>
<text x="0" y="0" font-size="11.9" text-anchor="middle" font-weight="normal" transform="translate(9.3,377.5) rotate(-90)">Depth (m)</text>
<line x1="98.67" y1="566.8" x2="98.67" y2="560.5" stroke="#000" stroke-width="1.3"/>
<line x1="98.67" y1="729.2" x2="98.67" y2="735.5" stroke="#000" stroke-width="1.3"/>
<line x1="155.12" y1="566.8" x2="155.12" y2="560.5" stroke="#000" stroke-width="1.3"/>
<line x1="155.12" y1="729.2" x2="155.12" y2="735.5" stroke="#000" stroke-width="1.3"/>
<line x1="211.58" y1="566.8" x2="211.58" y2="560.5" stroke="#000" stroke-width="1.3"/>
<line x1="211.58" y1="729.2" x2="211.58" y2="735.5" stroke="#000" stroke-width="1.3"/>
<line x1="268.04" y1="566.8" x2="268.04" y2="560.5" stroke="#000" stroke-width="1.3"/>
<line x1="268.04" y1="729.2" x2="268.04" y2="735.5" stroke="#000" stroke-width="1.3"/>
<line x1="324.5" y1="566.8" x2="324.5" y2="560.5" stroke="#000" stroke-width="1.3"/>
<line x1="324.5" y1="729.2" x2="324.5" y2="735.5" stroke="#000" stroke-width="1.3"/>
<line x1="70.44" y1="566.8" x2="70.44" y2="563.6" stroke="#000" stroke-width="1.04"/>
<line x1="70.44" y1="729.2" x2="70.44" y2="732.4" stroke="#000" stroke-width="1.04"/>
<line x1="126.9" y1="566.8" x2="126.9" y2="563.6" stroke="#000" stroke-width="1.04"/>
<line x1="126.9" y1="729.2" x2="126.9" y2="732.4" stroke="#000" stroke-width="1.04"/>
<line x1="183.35" y1="566.8" x2="183.35" y2="563.6" stroke="#000" stroke-width="1.04"/>
<line x1="183.35" y1="729.2" x2="183.35" y2="732.4" stroke="#000" stroke-width="1.04"/>
<line x1="239.81" y1="566.8" x2="239.81" y2="563.6" stroke="#000" stroke-width="1.04"/>
<line x1="239.81" y1="729.2" x2="239.81" y2="732.4" stroke="#000" stroke-width="1.04"/>
<line x1="296.27" y1="566.8" x2="296.27" y2="563.6" stroke="#000" stroke-width="1.04"/>
<line x1="296.27" y1="729.2" x2="296.27" y2="732.4" stroke="#000" stroke-width="1.04"/>
<line x1="53.5" y1="566.8" x2="47.2" y2="566.8" stroke="#000" stroke-width="1.3"/>
<line x1="324.6" y1="566.8" x2="330.9" y2="566.8" stroke="#000" stroke-width="1.3"/>
<line x1="53.5" y1="599.85" x2="47.2" y2="599.85" stroke="#000" stroke-width="1.3"/>
<line x1="324.6" y1="599.85" x2="330.9" y2="599.85" stroke="#000" stroke-width="1.3"/>
<line x1="53.5" y1="632.9" x2="47.2" y2="632.9" stroke="#000" stroke-width="1.3"/>
<line x1="324.6" y1="632.9" x2="330.9" y2="632.9" stroke="#000" stroke-width="1.3"/>
<line x1="53.5" y1="665.95" x2="47.2" y2="665.95" stroke="#000" stroke-width="1.3"/>
<line x1="324.6" y1="665.95" x2="330.9" y2="665.95" stroke="#000" stroke-width="1.3"/>
<line x1="53.5" y1="699" x2="47.2" y2="699" stroke="#000" stroke-width="1.3"/>
<line x1="324.6" y1="699" x2="330.9" y2="699" stroke="#000" stroke-width="1.3"/>
<line x1="53.5" y1="575.06" x2="50.3" y2="575.06" stroke="#000" stroke-width="1.04"/>
<line x1="324.6" y1="575.06" x2="327.8" y2="575.06" stroke="#000" stroke-width="1.04"/>
<line x1="53.5" y1="583.32" x2="50.3" y2="583.32" stroke="#000" stroke-width="1.04"/>
<line x1="324.6" y1="583.32" x2="327.8" y2="583.32" stroke="#000" stroke-width="1.04"/>
<line x1="53.5" y1="591.59" x2="50.3" y2="591.59" stroke="#000" stroke-width="1.04"/>
<line x1="324.6" y1="591.59" x2="327.8" y2="591.59" stroke="#000" stroke-width="1.04"/>
<line x1="53.5" y1="608.11" x2="50.3" y2="608.11" stroke="#000" stroke-width="1.04"/>
<line x1="324.6" y1="608.11" x2="327.8" y2="608.11" stroke="#000" stroke-width="1.04"/>
<line x1="53.5" y1="616.38" x2="50.3" y2="616.38" stroke="#000" stroke-width="1.04"/>
<line x1="324.6" y1="616.38" x2="327.8" y2="616.38" stroke="#000" stroke-width="1.04"/>
<line x1="53.5" y1="624.64" x2="50.3" y2="624.64" stroke="#000" stroke-width="1.04"/>
<line x1="324.6" y1="624.64" x2="327.8" y2="624.64" stroke="#000" stroke-width="1.04"/>
<line x1="53.5" y1="641.16" x2="50.3" y2="641.16" stroke="#000" stroke-width="1.04"/>
<line x1="324.6" y1="641.16" x2="327.8" y2="641.16" stroke="#000" stroke-width="1.04"/>
<line x1="53.5" y1="649.42" x2="50.3" y2="649.42" stroke="#000" stroke-width="1.04"/>
<line x1="324.6" y1="649.42" x2="327.8" y2="649.42" stroke="#000" stroke-width="1.04"/>
<line x1="53.5" y1="657.69" x2="50.3" y2="657.69" stroke="#000" stroke-width="1.04"/>
<line x1="324.6" y1="657.69" x2="327.8" y2="657.69" stroke="#000" stroke-width="1.04"/>
<line x1="53.5" y1="674.21" x2="50.3" y2="674.21" stroke="#000" stroke-width="1.04"/>
<line x1="324.6" y1="674.21" x2="327.8" y2="674.21" stroke="#000" stroke-width="1.04"/>
<line x1="53.5" y1="682.47" x2="50.3" y2="682.47" stroke="#000" stroke-width="1.04"/>
<line x1="324.6" y1="682.47" x2="327.8" y2="682.47" stroke="#000" stroke-width="1.04"/>
<line x1="53.5" y1="690.74" x2="50.3" y2="690.74" stroke="#000" stroke-width="1.04"/>
<line x1="324.6" y1="690.74" x2="327.8" y2="690.74" stroke="#000" stroke-width="1.04"/>
<line x1="53.5" y1="707.26" x2="50.3" y2="707.26" stroke="#000" stroke-width="1.04"/>
<line x1="324.6" y1="707.26" x2="327.8" y2="707.26" stroke="#000" stroke-width="1.04"/>
<line x1="53.5" y1="715.52" x2="50.3" y2="715.52" stroke="#000" stroke-width="1.04"/>
<line x1="324.6" y1="715.52" x2="327.8" y2="715.52" stroke="#000" stroke-width="1.04"/>
<line x1="53.5" y1="723.79" x2="50.3" y2="723.79" stroke="#000" stroke-width="1.04"/>
<line x1="324.6" y1="723.79" x2="327.8" y2="723.79" stroke="#000" stroke-width="1.04"/>
<rect x="53.5" y="566.8" width="271.1" height="162.4" fill="none" stroke="#000" stroke-width="2.0"/>
<text x="0" y="0" font-size="9.7" text-anchor="middle" font-weight="normal" transform="translate(98.67,750.5) scale(1,1.12)" >70<tspan font-size="6.3" dy="-4">o</tspan><tspan dy="4">S</tspan></text>
<text x="0" y="0" font-size="9.7" text-anchor="middle" font-weight="normal" transform="translate(155.12,750.5) scale(1,1.12)" >60<tspan font-size="6.3" dy="-4">o</tspan><tspan dy="4">S</tspan></text>
<text x="0" y="0" font-size="9.7" text-anchor="middle" font-weight="normal" transform="translate(211.58,750.5) scale(1,1.12)" >50<tspan font-size="6.3" dy="-4">o</tspan><tspan dy="4">S</tspan></text>
<text x="0" y="0" font-size="9.7" text-anchor="middle" font-weight="normal" transform="translate(268.04,750.5) scale(1,1.12)" >40<tspan font-size="6.3" dy="-4">o</tspan><tspan dy="4">S</tspan></text>
<text x="0" y="0" font-size="9.7" text-anchor="middle" font-weight="normal" transform="translate(324.5,750.5) scale(1,1.12)" >30<tspan font-size="6.3" dy="-4">o</tspan><tspan dy="4">S</tspan></text>
<text x="0" y="0" font-size="9.7" text-anchor="end" font-weight="normal" transform="translate(41.3,570.3) scale(1,1.12)" >0</text>
<text x="0" y="0" font-size="9.7" text-anchor="end" font-weight="normal" transform="translate(41.3,603.35) scale(1,1.12)" >1000</text>
<text x="0" y="0" font-size="9.7" text-anchor="end" font-weight="normal" transform="translate(41.3,636.4) scale(1,1.12)" >2000</text>
<text x="0" y="0" font-size="9.7" text-anchor="end" font-weight="normal" transform="translate(41.3,669.45) scale(1,1.12)" >3000</text>
<text x="0" y="0" font-size="9.7" text-anchor="end" font-weight="normal" transform="translate(41.3,702.5) scale(1,1.12)" >4000</text>
<text x="0" y="0" font-size="11.9" text-anchor="middle" font-weight="normal" transform="translate(9.3,648) rotate(-90)">Depth (m)</text>
<line x1="404.3" y1="26" x2="404.3" y2="19.7" stroke="#000" stroke-width="1.3"/>
<line x1="404.3" y1="188.4" x2="404.3" y2="194.7" stroke="#000" stroke-width="1.3"/>
<line x1="485.45" y1="26" x2="485.45" y2="19.7" stroke="#000" stroke-width="1.3"/>
<line x1="485.45" y1="188.4" x2="485.45" y2="194.7" stroke="#000" stroke-width="1.3"/>
<line x1="566.6" y1="26" x2="566.6" y2="19.7" stroke="#000" stroke-width="1.3"/>
<line x1="566.6" y1="188.4" x2="566.6" y2="194.7" stroke="#000" stroke-width="1.3"/>
<line x1="647.75" y1="26" x2="647.75" y2="19.7" stroke="#000" stroke-width="1.3"/>
<line x1="647.75" y1="188.4" x2="647.75" y2="194.7" stroke="#000" stroke-width="1.3"/>
<line x1="431.35" y1="26" x2="431.35" y2="22.8" stroke="#000" stroke-width="1.04"/>
<line x1="431.35" y1="188.4" x2="431.35" y2="191.6" stroke="#000" stroke-width="1.04"/>
<line x1="458.4" y1="26" x2="458.4" y2="22.8" stroke="#000" stroke-width="1.04"/>
<line x1="458.4" y1="188.4" x2="458.4" y2="191.6" stroke="#000" stroke-width="1.04"/>
<line x1="512.5" y1="26" x2="512.5" y2="22.8" stroke="#000" stroke-width="1.04"/>
<line x1="512.5" y1="188.4" x2="512.5" y2="191.6" stroke="#000" stroke-width="1.04"/>
<line x1="539.55" y1="26" x2="539.55" y2="22.8" stroke="#000" stroke-width="1.04"/>
<line x1="539.55" y1="188.4" x2="539.55" y2="191.6" stroke="#000" stroke-width="1.04"/>
<line x1="593.65" y1="26" x2="593.65" y2="22.8" stroke="#000" stroke-width="1.04"/>
<line x1="593.65" y1="188.4" x2="593.65" y2="191.6" stroke="#000" stroke-width="1.04"/>
<line x1="620.7" y1="26" x2="620.7" y2="22.8" stroke="#000" stroke-width="1.04"/>
<line x1="620.7" y1="188.4" x2="620.7" y2="191.6" stroke="#000" stroke-width="1.04"/>
<line x1="674.8" y1="26" x2="674.8" y2="22.8" stroke="#000" stroke-width="1.04"/>
<line x1="674.8" y1="188.4" x2="674.8" y2="191.6" stroke="#000" stroke-width="1.04"/>
<line x1="404.3" y1="26" x2="398" y2="26" stroke="#000" stroke-width="1.3"/>
<line x1="674.9" y1="26" x2="681.2" y2="26" stroke="#000" stroke-width="1.3"/>
<line x1="404.3" y1="66.6" x2="398" y2="66.6" stroke="#000" stroke-width="1.3"/>
<line x1="674.9" y1="66.6" x2="681.2" y2="66.6" stroke="#000" stroke-width="1.3"/>
<line x1="404.3" y1="107.2" x2="398" y2="107.2" stroke="#000" stroke-width="1.3"/>
<line x1="674.9" y1="107.2" x2="681.2" y2="107.2" stroke="#000" stroke-width="1.3"/>
<line x1="404.3" y1="147.8" x2="398" y2="147.8" stroke="#000" stroke-width="1.3"/>
<line x1="674.9" y1="147.8" x2="681.2" y2="147.8" stroke="#000" stroke-width="1.3"/>
<line x1="404.3" y1="188.4" x2="398" y2="188.4" stroke="#000" stroke-width="1.3"/>
<line x1="674.9" y1="188.4" x2="681.2" y2="188.4" stroke="#000" stroke-width="1.3"/>
<line x1="404.3" y1="36.15" x2="401.1" y2="36.15" stroke="#000" stroke-width="1.04"/>
<line x1="674.9" y1="36.15" x2="678.1" y2="36.15" stroke="#000" stroke-width="1.04"/>
<line x1="404.3" y1="46.3" x2="401.1" y2="46.3" stroke="#000" stroke-width="1.04"/>
<line x1="674.9" y1="46.3" x2="678.1" y2="46.3" stroke="#000" stroke-width="1.04"/>
<line x1="404.3" y1="56.45" x2="401.1" y2="56.45" stroke="#000" stroke-width="1.04"/>
<line x1="674.9" y1="56.45" x2="678.1" y2="56.45" stroke="#000" stroke-width="1.04"/>
<line x1="404.3" y1="76.75" x2="401.1" y2="76.75" stroke="#000" stroke-width="1.04"/>
<line x1="674.9" y1="76.75" x2="678.1" y2="76.75" stroke="#000" stroke-width="1.04"/>
<line x1="404.3" y1="86.9" x2="401.1" y2="86.9" stroke="#000" stroke-width="1.04"/>
<line x1="674.9" y1="86.9" x2="678.1" y2="86.9" stroke="#000" stroke-width="1.04"/>
<line x1="404.3" y1="97.05" x2="401.1" y2="97.05" stroke="#000" stroke-width="1.04"/>
<line x1="674.9" y1="97.05" x2="678.1" y2="97.05" stroke="#000" stroke-width="1.04"/>
<line x1="404.3" y1="117.35" x2="401.1" y2="117.35" stroke="#000" stroke-width="1.04"/>
<line x1="674.9" y1="117.35" x2="678.1" y2="117.35" stroke="#000" stroke-width="1.04"/>
<line x1="404.3" y1="127.5" x2="401.1" y2="127.5" stroke="#000" stroke-width="1.04"/>
<line x1="674.9" y1="127.5" x2="678.1" y2="127.5" stroke="#000" stroke-width="1.04"/>
<line x1="404.3" y1="137.65" x2="401.1" y2="137.65" stroke="#000" stroke-width="1.04"/>
<line x1="674.9" y1="137.65" x2="678.1" y2="137.65" stroke="#000" stroke-width="1.04"/>
<line x1="404.3" y1="157.95" x2="401.1" y2="157.95" stroke="#000" stroke-width="1.04"/>
<line x1="674.9" y1="157.95" x2="678.1" y2="157.95" stroke="#000" stroke-width="1.04"/>
<line x1="404.3" y1="168.1" x2="401.1" y2="168.1" stroke="#000" stroke-width="1.04"/>
<line x1="674.9" y1="168.1" x2="678.1" y2="168.1" stroke="#000" stroke-width="1.04"/>
<line x1="404.3" y1="178.25" x2="401.1" y2="178.25" stroke="#000" stroke-width="1.04"/>
<line x1="674.9" y1="178.25" x2="678.1" y2="178.25" stroke="#000" stroke-width="1.04"/>
<rect x="404.3" y="26" width="270.6" height="162.4" fill="none" stroke="#000" stroke-width="2.0"/>
<text x="0" y="0" font-size="9.7" text-anchor="middle" font-weight="normal" transform="translate(404.3,209.7) scale(1,1.12)" >30<tspan font-size="6.3" dy="-4">o</tspan><tspan dy="4">S</tspan></text>
<text x="0" y="0" font-size="9.7" text-anchor="middle" font-weight="normal" transform="translate(485.45,209.7) scale(1,1.12)" >0</text>
<text x="0" y="0" font-size="9.7" text-anchor="middle" font-weight="normal" transform="translate(566.6,209.7) scale(1,1.12)" >30<tspan font-size="6.3" dy="-4">o</tspan><tspan dy="4">N</tspan></text>
<text x="0" y="0" font-size="9.7" text-anchor="middle" font-weight="normal" transform="translate(647.75,209.7) scale(1,1.12)" >60<tspan font-size="6.3" dy="-4">o</tspan><tspan dy="4">N</tspan></text>
<text x="0" y="0" font-size="9.7" text-anchor="end" font-weight="normal" transform="translate(391.8,29.5) scale(1,1.12)" >1.0</text>
<text x="0" y="0" font-size="9.7" text-anchor="end" font-weight="normal" transform="translate(391.8,70.1) scale(1,1.12)" >0.5</text>
<text x="0" y="0" font-size="9.7" text-anchor="end" font-weight="normal" transform="translate(391.8,110.7) scale(1,1.12)" >0.0</text>
<text x="0" y="0" font-size="9.7" text-anchor="end" font-weight="normal" transform="translate(391.8,151.3) scale(1,1.12)" >-0.5</text>
<text x="0" y="0" font-size="9.7" text-anchor="end" font-weight="normal" transform="translate(391.8,191.9) scale(1,1.12)" >-1.0</text>
<text x="539.6" y="227.1" font-size="12.3" text-anchor="middle" font-weight="normal" >Latitude</text>
<text x="0" y="0" font-size="12.1" text-anchor="middle" font-weight="normal" transform="translate(367,107.2) rotate(-90)">10<tspan font-size="7.8" dy="-5.5">8</tspan><tspan dy="5.5"> W m</tspan><tspan font-size="7.8" dy="-5.5">-1</tspan></text>
<line x1="404.3" y1="296.3" x2="404.3" y2="290" stroke="#000" stroke-width="1.3"/>
<line x1="404.3" y1="458.7" x2="404.3" y2="465" stroke="#000" stroke-width="1.3"/>
<line x1="485.45" y1="296.3" x2="485.45" y2="290" stroke="#000" stroke-width="1.3"/>
<line x1="485.45" y1="458.7" x2="485.45" y2="465" stroke="#000" stroke-width="1.3"/>
<line x1="566.6" y1="296.3" x2="566.6" y2="290" stroke="#000" stroke-width="1.3"/>
<line x1="566.6" y1="458.7" x2="566.6" y2="465" stroke="#000" stroke-width="1.3"/>
<line x1="647.75" y1="296.3" x2="647.75" y2="290" stroke="#000" stroke-width="1.3"/>
<line x1="647.75" y1="458.7" x2="647.75" y2="465" stroke="#000" stroke-width="1.3"/>
<line x1="431.35" y1="296.3" x2="431.35" y2="293.1" stroke="#000" stroke-width="1.04"/>
<line x1="431.35" y1="458.7" x2="431.35" y2="461.9" stroke="#000" stroke-width="1.04"/>
<line x1="458.4" y1="296.3" x2="458.4" y2="293.1" stroke="#000" stroke-width="1.04"/>
<line x1="458.4" y1="458.7" x2="458.4" y2="461.9" stroke="#000" stroke-width="1.04"/>
<line x1="512.5" y1="296.3" x2="512.5" y2="293.1" stroke="#000" stroke-width="1.04"/>
<line x1="512.5" y1="458.7" x2="512.5" y2="461.9" stroke="#000" stroke-width="1.04"/>
<line x1="539.55" y1="296.3" x2="539.55" y2="293.1" stroke="#000" stroke-width="1.04"/>
<line x1="539.55" y1="458.7" x2="539.55" y2="461.9" stroke="#000" stroke-width="1.04"/>
<line x1="593.65" y1="296.3" x2="593.65" y2="293.1" stroke="#000" stroke-width="1.04"/>
<line x1="593.65" y1="458.7" x2="593.65" y2="461.9" stroke="#000" stroke-width="1.04"/>
<line x1="620.7" y1="296.3" x2="620.7" y2="293.1" stroke="#000" stroke-width="1.04"/>
<line x1="620.7" y1="458.7" x2="620.7" y2="461.9" stroke="#000" stroke-width="1.04"/>
<line x1="674.8" y1="296.3" x2="674.8" y2="293.1" stroke="#000" stroke-width="1.04"/>
<line x1="674.8" y1="458.7" x2="674.8" y2="461.9" stroke="#000" stroke-width="1.04"/>
<line x1="404.3" y1="296.3" x2="398" y2="296.3" stroke="#000" stroke-width="1.3"/>
<line x1="674.9" y1="296.3" x2="681.2" y2="296.3" stroke="#000" stroke-width="1.3"/>
<line x1="404.3" y1="336.9" x2="398" y2="336.9" stroke="#000" stroke-width="1.3"/>
<line x1="674.9" y1="336.9" x2="681.2" y2="336.9" stroke="#000" stroke-width="1.3"/>
<line x1="404.3" y1="377.5" x2="398" y2="377.5" stroke="#000" stroke-width="1.3"/>
<line x1="674.9" y1="377.5" x2="681.2" y2="377.5" stroke="#000" stroke-width="1.3"/>
<line x1="404.3" y1="418.1" x2="398" y2="418.1" stroke="#000" stroke-width="1.3"/>
<line x1="674.9" y1="418.1" x2="681.2" y2="418.1" stroke="#000" stroke-width="1.3"/>
<line x1="404.3" y1="458.7" x2="398" y2="458.7" stroke="#000" stroke-width="1.3"/>
<line x1="674.9" y1="458.7" x2="681.2" y2="458.7" stroke="#000" stroke-width="1.3"/>
<line x1="404.3" y1="306.45" x2="401.1" y2="306.45" stroke="#000" stroke-width="1.04"/>
<line x1="674.9" y1="306.45" x2="678.1" y2="306.45" stroke="#000" stroke-width="1.04"/>
<line x1="404.3" y1="316.6" x2="401.1" y2="316.6" stroke="#000" stroke-width="1.04"/>
<line x1="674.9" y1="316.6" x2="678.1" y2="316.6" stroke="#000" stroke-width="1.04"/>
<line x1="404.3" y1="326.75" x2="401.1" y2="326.75" stroke="#000" stroke-width="1.04"/>
<line x1="674.9" y1="326.75" x2="678.1" y2="326.75" stroke="#000" stroke-width="1.04"/>
<line x1="404.3" y1="347.05" x2="401.1" y2="347.05" stroke="#000" stroke-width="1.04"/>
<line x1="674.9" y1="347.05" x2="678.1" y2="347.05" stroke="#000" stroke-width="1.04"/>
<line x1="404.3" y1="357.2" x2="401.1" y2="357.2" stroke="#000" stroke-width="1.04"/>
<line x1="674.9" y1="357.2" x2="678.1" y2="357.2" stroke="#000" stroke-width="1.04"/>
<line x1="404.3" y1="367.35" x2="401.1" y2="367.35" stroke="#000" stroke-width="1.04"/>
<line x1="674.9" y1="367.35" x2="678.1" y2="367.35" stroke="#000" stroke-width="1.04"/>
<line x1="404.3" y1="387.65" x2="401.1" y2="387.65" stroke="#000" stroke-width="1.04"/>
<line x1="674.9" y1="387.65" x2="678.1" y2="387.65" stroke="#000" stroke-width="1.04"/>
<line x1="404.3" y1="397.8" x2="401.1" y2="397.8" stroke="#000" stroke-width="1.04"/>
<line x1="674.9" y1="397.8" x2="678.1" y2="397.8" stroke="#000" stroke-width="1.04"/>
<line x1="404.3" y1="407.95" x2="401.1" y2="407.95" stroke="#000" stroke-width="1.04"/>
<line x1="674.9" y1="407.95" x2="678.1" y2="407.95" stroke="#000" stroke-width="1.04"/>
<line x1="404.3" y1="428.25" x2="401.1" y2="428.25" stroke="#000" stroke-width="1.04"/>
<line x1="674.9" y1="428.25" x2="678.1" y2="428.25" stroke="#000" stroke-width="1.04"/>
<line x1="404.3" y1="438.4" x2="401.1" y2="438.4" stroke="#000" stroke-width="1.04"/>
<line x1="674.9" y1="438.4" x2="678.1" y2="438.4" stroke="#000" stroke-width="1.04"/>
<line x1="404.3" y1="448.55" x2="401.1" y2="448.55" stroke="#000" stroke-width="1.04"/>
<line x1="674.9" y1="448.55" x2="678.1" y2="448.55" stroke="#000" stroke-width="1.04"/>
<rect x="404.3" y="296.3" width="270.6" height="162.4" fill="none" stroke="#000" stroke-width="2.0"/>
<text x="0" y="0" font-size="9.7" text-anchor="middle" font-weight="normal" transform="translate(404.3,480) scale(1,1.12)" >30<tspan font-size="6.3" dy="-4">o</tspan><tspan dy="4">S</tspan></text>
<text x="0" y="0" font-size="9.7" text-anchor="middle" font-weight="normal" transform="translate(485.45,480) scale(1,1.12)" >0</text>
<text x="0" y="0" font-size="9.7" text-anchor="middle" font-weight="normal" transform="translate(566.6,480) scale(1,1.12)" >30<tspan font-size="6.3" dy="-4">o</tspan><tspan dy="4">N</tspan></text>
<text x="0" y="0" font-size="9.7" text-anchor="middle" font-weight="normal" transform="translate(647.75,480) scale(1,1.12)" >60<tspan font-size="6.3" dy="-4">o</tspan><tspan dy="4">N</tspan></text>
<text x="0" y="0" font-size="9.7" text-anchor="end" font-weight="normal" transform="translate(391.8,299.8) scale(1,1.12)" >1.0</text>
<text x="0" y="0" font-size="9.7" text-anchor="end" font-weight="normal" transform="translate(391.8,340.4) scale(1,1.12)" >0.5</text>
<text x="0" y="0" font-size="9.7" text-anchor="end" font-weight="normal" transform="translate(391.8,381) scale(1,1.12)" >0.0</text>
<text x="0" y="0" font-size="9.7" text-anchor="end" font-weight="normal" transform="translate(391.8,421.6) scale(1,1.12)" >-0.5</text>
<text x="0" y="0" font-size="9.7" text-anchor="end" font-weight="normal" transform="translate(391.8,462.2) scale(1,1.12)" >-1.0</text>
<text x="539.6" y="497.4" font-size="12.3" text-anchor="middle" font-weight="normal" >Latitude</text>
<text x="0" y="0" font-size="12.1" text-anchor="middle" font-weight="normal" transform="translate(367,377.5) rotate(-90)">10<tspan font-size="7.8" dy="-5.5">8</tspan><tspan dy="5.5"> W m</tspan><tspan font-size="7.8" dy="-5.5">-1</tspan></text>
<line x1="449.38" y1="566.8" x2="449.38" y2="560.5" stroke="#000" stroke-width="1.3"/>
<line x1="449.38" y1="729.2" x2="449.38" y2="735.5" stroke="#000" stroke-width="1.3"/>
<line x1="505.74" y1="566.8" x2="505.74" y2="560.5" stroke="#000" stroke-width="1.3"/>
<line x1="505.74" y1="729.2" x2="505.74" y2="735.5" stroke="#000" stroke-width="1.3"/>
<line x1="562.09" y1="566.8" x2="562.09" y2="560.5" stroke="#000" stroke-width="1.3"/>
<line x1="562.09" y1="729.2" x2="562.09" y2="735.5" stroke="#000" stroke-width="1.3"/>
<line x1="618.45" y1="566.8" x2="618.45" y2="560.5" stroke="#000" stroke-width="1.3"/>
<line x1="618.45" y1="729.2" x2="618.45" y2="735.5" stroke="#000" stroke-width="1.3"/>
<line x1="674.8" y1="566.8" x2="674.8" y2="560.5" stroke="#000" stroke-width="1.3"/>
<line x1="674.8" y1="729.2" x2="674.8" y2="735.5" stroke="#000" stroke-width="1.3"/>
<line x1="421.21" y1="566.8" x2="421.21" y2="563.6" stroke="#000" stroke-width="1.04"/>
<line x1="421.21" y1="729.2" x2="421.21" y2="732.4" stroke="#000" stroke-width="1.04"/>
<line x1="477.56" y1="566.8" x2="477.56" y2="563.6" stroke="#000" stroke-width="1.04"/>
<line x1="477.56" y1="729.2" x2="477.56" y2="732.4" stroke="#000" stroke-width="1.04"/>
<line x1="533.91" y1="566.8" x2="533.91" y2="563.6" stroke="#000" stroke-width="1.04"/>
<line x1="533.91" y1="729.2" x2="533.91" y2="732.4" stroke="#000" stroke-width="1.04"/>
<line x1="590.27" y1="566.8" x2="590.27" y2="563.6" stroke="#000" stroke-width="1.04"/>
<line x1="590.27" y1="729.2" x2="590.27" y2="732.4" stroke="#000" stroke-width="1.04"/>
<line x1="646.62" y1="566.8" x2="646.62" y2="563.6" stroke="#000" stroke-width="1.04"/>
<line x1="646.62" y1="729.2" x2="646.62" y2="732.4" stroke="#000" stroke-width="1.04"/>
<line x1="404.3" y1="566.8" x2="398" y2="566.8" stroke="#000" stroke-width="1.3"/>
<line x1="674.9" y1="566.8" x2="681.2" y2="566.8" stroke="#000" stroke-width="1.3"/>
<line x1="404.3" y1="607.4" x2="398" y2="607.4" stroke="#000" stroke-width="1.3"/>
<line x1="674.9" y1="607.4" x2="681.2" y2="607.4" stroke="#000" stroke-width="1.3"/>
<line x1="404.3" y1="648" x2="398" y2="648" stroke="#000" stroke-width="1.3"/>
<line x1="674.9" y1="648" x2="681.2" y2="648" stroke="#000" stroke-width="1.3"/>
<line x1="404.3" y1="688.6" x2="398" y2="688.6" stroke="#000" stroke-width="1.3"/>
<line x1="674.9" y1="688.6" x2="681.2" y2="688.6" stroke="#000" stroke-width="1.3"/>
<line x1="404.3" y1="729.2" x2="398" y2="729.2" stroke="#000" stroke-width="1.3"/>
<line x1="674.9" y1="729.2" x2="681.2" y2="729.2" stroke="#000" stroke-width="1.3"/>
<line x1="404.3" y1="576.95" x2="401.1" y2="576.95" stroke="#000" stroke-width="1.04"/>
<line x1="674.9" y1="576.95" x2="678.1" y2="576.95" stroke="#000" stroke-width="1.04"/>
<line x1="404.3" y1="587.1" x2="401.1" y2="587.1" stroke="#000" stroke-width="1.04"/>
<line x1="674.9" y1="587.1" x2="678.1" y2="587.1" stroke="#000" stroke-width="1.04"/>
<line x1="404.3" y1="597.25" x2="401.1" y2="597.25" stroke="#000" stroke-width="1.04"/>
<line x1="674.9" y1="597.25" x2="678.1" y2="597.25" stroke="#000" stroke-width="1.04"/>
<line x1="404.3" y1="617.55" x2="401.1" y2="617.55" stroke="#000" stroke-width="1.04"/>
<line x1="674.9" y1="617.55" x2="678.1" y2="617.55" stroke="#000" stroke-width="1.04"/>
<line x1="404.3" y1="627.7" x2="401.1" y2="627.7" stroke="#000" stroke-width="1.04"/>
<line x1="674.9" y1="627.7" x2="678.1" y2="627.7" stroke="#000" stroke-width="1.04"/>
<line x1="404.3" y1="637.85" x2="401.1" y2="637.85" stroke="#000" stroke-width="1.04"/>
<line x1="674.9" y1="637.85" x2="678.1" y2="637.85" stroke="#000" stroke-width="1.04"/>
<line x1="404.3" y1="658.15" x2="401.1" y2="658.15" stroke="#000" stroke-width="1.04"/>
<line x1="674.9" y1="658.15" x2="678.1" y2="658.15" stroke="#000" stroke-width="1.04"/>
<line x1="404.3" y1="668.3" x2="401.1" y2="668.3" stroke="#000" stroke-width="1.04"/>
<line x1="674.9" y1="668.3" x2="678.1" y2="668.3" stroke="#000" stroke-width="1.04"/>
<line x1="404.3" y1="678.45" x2="401.1" y2="678.45" stroke="#000" stroke-width="1.04"/>
<line x1="674.9" y1="678.45" x2="678.1" y2="678.45" stroke="#000" stroke-width="1.04"/>
<line x1="404.3" y1="698.75" x2="401.1" y2="698.75" stroke="#000" stroke-width="1.04"/>
<line x1="674.9" y1="698.75" x2="678.1" y2="698.75" stroke="#000" stroke-width="1.04"/>
<line x1="404.3" y1="708.9" x2="401.1" y2="708.9" stroke="#000" stroke-width="1.04"/>
<line x1="674.9" y1="708.9" x2="678.1" y2="708.9" stroke="#000" stroke-width="1.04"/>
<line x1="404.3" y1="719.05" x2="401.1" y2="719.05" stroke="#000" stroke-width="1.04"/>
<line x1="674.9" y1="719.05" x2="678.1" y2="719.05" stroke="#000" stroke-width="1.04"/>
<rect x="404.3" y="566.8" width="270.6" height="162.4" fill="none" stroke="#000" stroke-width="2.0"/>
<text x="0" y="0" font-size="9.7" text-anchor="middle" font-weight="normal" transform="translate(449.38,750.5) scale(1,1.12)" >70<tspan font-size="6.3" dy="-4">o</tspan><tspan dy="4">S</tspan></text>
<text x="0" y="0" font-size="9.7" text-anchor="middle" font-weight="normal" transform="translate(505.74,750.5) scale(1,1.12)" >60<tspan font-size="6.3" dy="-4">o</tspan><tspan dy="4">S</tspan></text>
<text x="0" y="0" font-size="9.7" text-anchor="middle" font-weight="normal" transform="translate(562.09,750.5) scale(1,1.12)" >50<tspan font-size="6.3" dy="-4">o</tspan><tspan dy="4">S</tspan></text>
<text x="0" y="0" font-size="9.7" text-anchor="middle" font-weight="normal" transform="translate(618.45,750.5) scale(1,1.12)" >40<tspan font-size="6.3" dy="-4">o</tspan><tspan dy="4">S</tspan></text>
<text x="0" y="0" font-size="9.7" text-anchor="middle" font-weight="normal" transform="translate(674.8,750.5) scale(1,1.12)" >30<tspan font-size="6.3" dy="-4">o</tspan><tspan dy="4">S</tspan></text>
<text x="0" y="0" font-size="9.7" text-anchor="end" font-weight="normal" transform="translate(391.8,570.3) scale(1,1.12)" >1.0</text>
<text x="0" y="0" font-size="9.7" text-anchor="end" font-weight="normal" transform="translate(391.8,610.9) scale(1,1.12)" >0.5</text>
<text x="0" y="0" font-size="9.7" text-anchor="end" font-weight="normal" transform="translate(391.8,651.5) scale(1,1.12)" >0.0</text>
<text x="0" y="0" font-size="9.7" text-anchor="end" font-weight="normal" transform="translate(391.8,692.1) scale(1,1.12)" >-0.5</text>
<text x="0" y="0" font-size="9.7" text-anchor="end" font-weight="normal" transform="translate(391.8,732.7) scale(1,1.12)" >-1.0</text>
<text x="539.6" y="767.9" font-size="12.3" text-anchor="middle" font-weight="normal" >Latitude</text>
<text x="0" y="0" font-size="12.1" text-anchor="middle" font-weight="normal" transform="translate(367,648) rotate(-90)">10<tspan font-size="7.8" dy="-5.5">8</tspan><tspan dy="5.5"> W m</tspan><tspan font-size="7.8" dy="-5.5">-1</tspan></text>
<polygon points="77.5,227.45 87.1,222.7 87.1,232.2" fill="#8020e0" stroke="#000" stroke-width="0.8"/>
<polygon points="300.8,227.45 291.04,222.7 291.04,232.2" fill="#ffa8b0" stroke="#000" stroke-width="0.8"/>
<rect x="87.1" y="222.7" width="9.27" height="9.5" fill="#5010e8" stroke="#000" stroke-width="0.8"/>
<rect x="96.37" y="222.7" width="9.27" height="9.5" fill="#0010f8" stroke="#000" stroke-width="0.8"/>
<rect x="105.64" y="222.7" width="9.27" height="9.5" fill="#2848e0" stroke="#000" stroke-width="0.8"/>
<rect x="114.91" y="222.7" width="9.27" height="9.5" fill="#4068d8" stroke="#000" stroke-width="0.8"/>
<rect x="124.18" y="222.7" width="9.27" height="9.5" fill="#3080f0" stroke="#000" stroke-width="0.8"/>
<rect x="133.45" y="222.7" width="9.27" height="9.5" fill="#1890f8" stroke="#000" stroke-width="0.8"/>
<rect x="142.72" y="222.7" width="9.27" height="9.5" fill="#00a8f8" stroke="#000" stroke-width="0.8"/>
<rect x="151.99" y="222.7" width="9.27" height="9.5" fill="#18c0f8" stroke="#000" stroke-width="0.8"/>
<rect x="161.26" y="222.7" width="9.27" height="9.5" fill="#60c8f0" stroke="#000" stroke-width="0.8"/>
<rect x="170.53" y="222.7" width="9.27" height="9.5" fill="#98d0f0" stroke="#000" stroke-width="0.8"/>
<rect x="179.8" y="222.7" width="9.27" height="9.5" fill="#c0e4f8" stroke="#000" stroke-width="0.8"/>
<rect x="189.07" y="222.7" width="9.27" height="9.5" fill="#fff9a0" stroke="#000" stroke-width="0.8"/>
<rect x="198.34" y="222.7" width="9.27" height="9.5" fill="#ffe850" stroke="#000" stroke-width="0.8"/>
<rect x="207.61" y="222.7" width="9.27" height="9.5" fill="#ffd028" stroke="#000" stroke-width="0.8"/>
<rect x="216.88" y="222.7" width="9.27" height="9.5" fill="#ffb810" stroke="#000" stroke-width="0.8"/>
<rect x="226.15" y="222.7" width="9.27" height="9.5" fill="#ff9800" stroke="#000" stroke-width="0.8"/>
<rect x="235.42" y="222.7" width="9.27" height="9.5" fill="#ff7400" stroke="#000" stroke-width="0.8"/>
<rect x="244.69" y="222.7" width="9.27" height="9.5" fill="#ff4400" stroke="#000" stroke-width="0.8"/>
<rect x="253.96" y="222.7" width="9.27" height="9.5" fill="#ff1010" stroke="#000" stroke-width="0.8"/>
<rect x="263.23" y="222.7" width="9.27" height="9.5" fill="#e80010" stroke="#000" stroke-width="0.8"/>
<rect x="272.5" y="222.7" width="9.27" height="9.5" fill="#cc0000" stroke="#000" stroke-width="0.8"/>
<rect x="281.77" y="222.7" width="9.27" height="9.5" fill="#d84850" stroke="#000" stroke-width="0.8"/>
<text x="0" y="0" font-size="9.6" text-anchor="middle" font-weight="normal" transform="translate(105.64,242.1) scale(1,1.1)" >-2.7</text>
<text x="0" y="0" font-size="9.6" text-anchor="middle" font-weight="normal" transform="translate(133.45,242.1) scale(1,1.1)" >-1.8</text>
<text x="0" y="0" font-size="9.6" text-anchor="middle" font-weight="normal" transform="translate(161.26,242.1) scale(1,1.1)" >-0.9</text>
<text x="0" y="0" font-size="9.6" text-anchor="middle" font-weight="normal" transform="translate(189.07,242.1) scale(1,1.1)" >0</text>
<text x="0" y="0" font-size="9.6" text-anchor="middle" font-weight="normal" transform="translate(216.88,242.1) scale(1,1.1)" >0.9</text>
<text x="0" y="0" font-size="9.6" text-anchor="middle" font-weight="normal" transform="translate(244.69,242.1) scale(1,1.1)" >1.8</text>
<text x="0" y="0" font-size="9.6" text-anchor="middle" font-weight="normal" transform="translate(272.5,242.1) scale(1,1.1)" >2.7</text>
<text x="0" y="0" font-size="10.2" text-anchor="middle" font-weight="normal" transform="translate(189,219.9) scale(1,1.08)" >Sv</text>
<polygon points="77.5,497.85 87.1,493.1 87.1,502.6" fill="#8020e0" stroke="#000" stroke-width="0.8"/>
<polygon points="300.8,497.85 291.04,493.1 291.04,502.6" fill="#ffa8b0" stroke="#000" stroke-width="0.8"/>
<rect x="87.1" y="493.1" width="9.27" height="9.5" fill="#5010e8" stroke="#000" stroke-width="0.8"/>
<rect x="96.37" y="493.1" width="9.27" height="9.5" fill="#0010f8" stroke="#000" stroke-width="0.8"/>
<rect x="105.64" y="493.1" width="9.27" height="9.5" fill="#2848e0" stroke="#000" stroke-width="0.8"/>
<rect x="114.91" y="493.1" width="9.27" height="9.5" fill="#4068d8" stroke="#000" stroke-width="0.8"/>
<rect x="124.18" y="493.1" width="9.27" height="9.5" fill="#3080f0" stroke="#000" stroke-width="0.8"/>
<rect x="133.45" y="493.1" width="9.27" height="9.5" fill="#1890f8" stroke="#000" stroke-width="0.8"/>
<rect x="142.72" y="493.1" width="9.27" height="9.5" fill="#00a8f8" stroke="#000" stroke-width="0.8"/>
<rect x="151.99" y="493.1" width="9.27" height="9.5" fill="#18c0f8" stroke="#000" stroke-width="0.8"/>
<rect x="161.26" y="493.1" width="9.27" height="9.5" fill="#60c8f0" stroke="#000" stroke-width="0.8"/>
<rect x="170.53" y="493.1" width="9.27" height="9.5" fill="#98d0f0" stroke="#000" stroke-width="0.8"/>
<rect x="179.8" y="493.1" width="9.27" height="9.5" fill="#c0e4f8" stroke="#000" stroke-width="0.8"/>
<rect x="189.07" y="493.1" width="9.27" height="9.5" fill="#fff9a0" stroke="#000" stroke-width="0.8"/>
<rect x="198.34" y="493.1" width="9.27" height="9.5" fill="#ffe850" stroke="#000" stroke-width="0.8"/>
<rect x="207.61" y="493.1" width="9.27" height="9.5" fill="#ffd028" stroke="#000" stroke-width="0.8"/>
<rect x="216.88" y="493.1" width="9.27" height="9.5" fill="#ffb810" stroke="#000" stroke-width="0.8"/>
<rect x="226.15" y="493.1" width="9.27" height="9.5" fill="#ff9800" stroke="#000" stroke-width="0.8"/>
<rect x="235.42" y="493.1" width="9.27" height="9.5" fill="#ff7400" stroke="#000" stroke-width="0.8"/>
<rect x="244.69" y="493.1" width="9.27" height="9.5" fill="#ff4400" stroke="#000" stroke-width="0.8"/>
<rect x="253.96" y="493.1" width="9.27" height="9.5" fill="#ff1010" stroke="#000" stroke-width="0.8"/>
<rect x="263.23" y="493.1" width="9.27" height="9.5" fill="#e80010" stroke="#000" stroke-width="0.8"/>
<rect x="272.5" y="493.1" width="9.27" height="9.5" fill="#cc0000" stroke="#000" stroke-width="0.8"/>
<rect x="281.77" y="493.1" width="9.27" height="9.5" fill="#d84850" stroke="#000" stroke-width="0.8"/>
<text x="0" y="0" font-size="9.6" text-anchor="middle" font-weight="normal" transform="translate(105.64,512.5) scale(1,1.1)" >-2.7</text>
<text x="0" y="0" font-size="9.6" text-anchor="middle" font-weight="normal" transform="translate(133.45,512.5) scale(1,1.1)" >-1.8</text>
<text x="0" y="0" font-size="9.6" text-anchor="middle" font-weight="normal" transform="translate(161.26,512.5) scale(1,1.1)" >-0.9</text>
<text x="0" y="0" font-size="9.6" text-anchor="middle" font-weight="normal" transform="translate(189.07,512.5) scale(1,1.1)" >0</text>
<text x="0" y="0" font-size="9.6" text-anchor="middle" font-weight="normal" transform="translate(216.88,512.5) scale(1,1.1)" >0.9</text>
<text x="0" y="0" font-size="9.6" text-anchor="middle" font-weight="normal" transform="translate(244.69,512.5) scale(1,1.1)" >1.8</text>
<text x="0" y="0" font-size="9.6" text-anchor="middle" font-weight="normal" transform="translate(272.5,512.5) scale(1,1.1)" >2.7</text>
<text x="0" y="0" font-size="10.2" text-anchor="middle" font-weight="normal" transform="translate(189,490.3) scale(1,1.08)" >Sv</text>
<polygon points="77.5,768.35 87.1,763.6 87.1,773.1" fill="#8020e0" stroke="#000" stroke-width="0.8"/>
<polygon points="300.8,768.35 291.04,763.6 291.04,773.1" fill="#ffa8b0" stroke="#000" stroke-width="0.8"/>
<rect x="87.1" y="763.6" width="9.27" height="9.5" fill="#5010e8" stroke="#000" stroke-width="0.8"/>
<rect x="96.37" y="763.6" width="9.27" height="9.5" fill="#0010f8" stroke="#000" stroke-width="0.8"/>
<rect x="105.64" y="763.6" width="9.27" height="9.5" fill="#2848e0" stroke="#000" stroke-width="0.8"/>
<rect x="114.91" y="763.6" width="9.27" height="9.5" fill="#4068d8" stroke="#000" stroke-width="0.8"/>
<rect x="124.18" y="763.6" width="9.27" height="9.5" fill="#3080f0" stroke="#000" stroke-width="0.8"/>
<rect x="133.45" y="763.6" width="9.27" height="9.5" fill="#1890f8" stroke="#000" stroke-width="0.8"/>
<rect x="142.72" y="763.6" width="9.27" height="9.5" fill="#00a8f8" stroke="#000" stroke-width="0.8"/>
<rect x="151.99" y="763.6" width="9.27" height="9.5" fill="#18c0f8" stroke="#000" stroke-width="0.8"/>
<rect x="161.26" y="763.6" width="9.27" height="9.5" fill="#60c8f0" stroke="#000" stroke-width="0.8"/>
<rect x="170.53" y="763.6" width="9.27" height="9.5" fill="#98d0f0" stroke="#000" stroke-width="0.8"/>
<rect x="179.8" y="763.6" width="9.27" height="9.5" fill="#c0e4f8" stroke="#000" stroke-width="0.8"/>
<rect x="189.07" y="763.6" width="9.27" height="9.5" fill="#fff9a0" stroke="#000" stroke-width="0.8"/>
<rect x="198.34" y="763.6" width="9.27" height="9.5" fill="#ffe850" stroke="#000" stroke-width="0.8"/>
<rect x="207.61" y="763.6" width="9.27" height="9.5" fill="#ffd028" stroke="#000" stroke-width="0.8"/>
<rect x="216.88" y="763.6" width="9.27" height="9.5" fill="#ffb810" stroke="#000" stroke-width="0.8"/>
<rect x="226.15" y="763.6" width="9.27" height="9.5" fill="#ff9800" stroke="#000" stroke-width="0.8"/>
<rect x="235.42" y="763.6" width="9.27" height="9.5" fill="#ff7400" stroke="#000" stroke-width="0.8"/>
<rect x="244.69" y="763.6" width="9.27" height="9.5" fill="#ff4400" stroke="#000" stroke-width="0.8"/>
<rect x="253.96" y="763.6" width="9.27" height="9.5" fill="#ff1010" stroke="#000" stroke-width="0.8"/>
<rect x="263.23" y="763.6" width="9.27" height="9.5" fill="#e80010" stroke="#000" stroke-width="0.8"/>
<rect x="272.5" y="763.6" width="9.27" height="9.5" fill="#cc0000" stroke="#000" stroke-width="0.8"/>
<rect x="281.77" y="763.6" width="9.27" height="9.5" fill="#d84850" stroke="#000" stroke-width="0.8"/>
<text x="0" y="0" font-size="9.6" text-anchor="middle" font-weight="normal" transform="translate(105.64,783) scale(1,1.1)" >-2.7</text>
<text x="0" y="0" font-size="9.6" text-anchor="middle" font-weight="normal" transform="translate(133.45,783) scale(1,1.1)" >-1.8</text>
<text x="0" y="0" font-size="9.6" text-anchor="middle" font-weight="normal" transform="translate(161.26,783) scale(1,1.1)" >-0.9</text>
<text x="0" y="0" font-size="9.6" text-anchor="middle" font-weight="normal" transform="translate(189.07,783) scale(1,1.1)" >0</text>
<text x="0" y="0" font-size="9.6" text-anchor="middle" font-weight="normal" transform="translate(216.88,783) scale(1,1.1)" >0.9</text>
<text x="0" y="0" font-size="9.6" text-anchor="middle" font-weight="normal" transform="translate(244.69,783) scale(1,1.1)" >1.8</text>
<text x="0" y="0" font-size="9.6" text-anchor="middle" font-weight="normal" transform="translate(272.5,783) scale(1,1.1)" >2.7</text>
<text x="0" y="0" font-size="10.2" text-anchor="middle" font-weight="normal" transform="translate(189,760.8) scale(1,1.08)" >Sv</text>
<text x="189" y="14.5" font-size="13.5" text-anchor="middle" font-weight="normal" >&#916;MOC (Atlantic)</text>
<text x="189" y="284.8" font-size="13.5" text-anchor="middle" font-weight="normal" >&#916;MOC (Indo-Pacific)</text>
<text x="189" y="555.3" font-size="13.5" text-anchor="middle" font-weight="normal" >&#916;MOC (Southern Ocean)</text>
<text x="539.6" y="12.6" font-size="13.5" text-anchor="middle" font-weight="normal" >&#916;Heat Budget (Atlantic)</text>
<text x="539.6" y="282.9" font-size="13.5" text-anchor="middle" font-weight="normal" >&#916;Heat Budget (Indo-Pacific)</text>
<text x="539.6" y="553.4" font-size="13.5" text-anchor="middle" font-weight="normal" >&#916;Heat Budget (Southern Ocean)</text>
<text x="39.3" y="11.8" font-size="18" text-anchor="start" font-weight="bold" >a</text>
<text x="388.7" y="12.3" font-size="18" text-anchor="start" font-weight="bold" >b</text>
<text x="39.2" y="282.4" font-size="18" text-anchor="start" font-weight="bold" >c</text>
<text x="388.7" y="282.6" font-size="18" text-anchor="start" font-weight="bold" >d</text>
<text x="39.2" y="552.6" font-size="18" text-anchor="start" font-weight="bold" >e</text>
<text x="388.7" y="553" font-size="18" text-anchor="start" font-weight="bold" >f</text>
</svg></body></html>
